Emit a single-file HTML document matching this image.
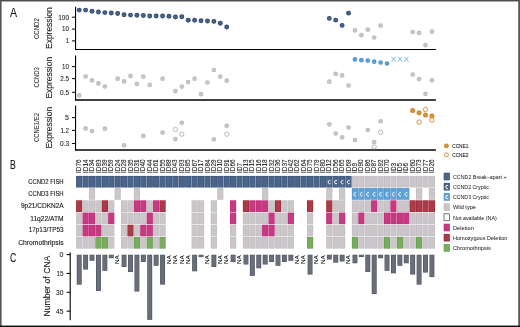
<!DOCTYPE html>
<html><head><meta charset="utf-8"><title>Figure</title>
<style>
html,body{margin:0;padding:0;background:#fff;}
body{width:520px;height:327px;overflow:hidden;font-family:"Liberation Sans",sans-serif;}
svg{display:block;will-change:transform;}
</style></head>
<body>
<svg width="520" height="327" viewBox="0 0 520 327">
<rect x="0" y="0" width="520" height="327" fill="#fff"/>
<rect x="0" y="0" width="520" height="1.5" fill="#4f4f4f"/>
<rect x="0" y="0" width="1.6" height="327" fill="#555"/>
<rect x="518.2" y="0" width="1.8" height="327" fill="#595959"/>
<rect x="0" y="325.6" width="520" height="1.4" fill="#0c0c0c"/>
<text x="10" y="17.4" font-size="12" font-family="Liberation Sans, sans-serif" fill="#1a1a1a" text-anchor="start" stroke="#1a1a1a" stroke-width="0.1" textLength="7.1" lengthAdjust="spacingAndGlyphs" >A</text>
<text x="10.1" y="168.9" font-size="12" font-family="Liberation Sans, sans-serif" fill="#1a1a1a" text-anchor="start" stroke="#1a1a1a" stroke-width="0.1" textLength="5.8" lengthAdjust="spacingAndGlyphs" >B</text>
<text x="10" y="262.3" font-size="12" font-family="Liberation Sans, sans-serif" fill="#1a1a1a" text-anchor="start" stroke="#1a1a1a" stroke-width="0.1" textLength="6.3" lengthAdjust="spacingAndGlyphs" >C</text>
<line x1="75.55" y1="6.7" x2="75.55" y2="50.0" stroke="#000" stroke-width="1.1"/>
<line x1="75.0" y1="49.5" x2="435.9" y2="49.5" stroke="#000" stroke-width="1.2"/>
<line x1="72.1" y1="17.2" x2="75.5" y2="17.2" stroke="#000" stroke-width="1.05"/>
<text x="69.0" y="19.55" font-size="7.0" font-family="Liberation Sans, sans-serif" fill="#1a1a1a" text-anchor="end" stroke="#1a1a1a" stroke-width="0.08" textLength="10.7" lengthAdjust="spacingAndGlyphs" >100</text>
<line x1="72.1" y1="29.1" x2="75.5" y2="29.1" stroke="#000" stroke-width="1.05"/>
<text x="69.0" y="31.45" font-size="7.0" font-family="Liberation Sans, sans-serif" fill="#1a1a1a" text-anchor="end" stroke="#1a1a1a" stroke-width="0.08" textLength="7.0" lengthAdjust="spacingAndGlyphs" >10</text>
<line x1="72.1" y1="40.9" x2="75.5" y2="40.9" stroke="#000" stroke-width="1.05"/>
<text x="69.0" y="43.25" font-size="7.0" font-family="Liberation Sans, sans-serif" fill="#1a1a1a" text-anchor="end" stroke="#1a1a1a" stroke-width="0.08" textLength="3.3" lengthAdjust="spacingAndGlyphs" >1</text>
<text x="51.7" y="48.900000000000006" font-size="8.7" font-family="Liberation Sans, sans-serif" fill="#1a1a1a" text-anchor="start" stroke="#1a1a1a" stroke-width="0.12" textLength="41.6" lengthAdjust="spacingAndGlyphs" transform="rotate(-90 51.7 48.900000000000006)" >Expression</text>
<text x="39.2" y="39.0" font-size="6.5" font-family="Liberation Sans, sans-serif" fill="#1a1a1a" text-anchor="start" stroke="#1a1a1a" stroke-width="0.03" textLength="20.8" lengthAdjust="spacingAndGlyphs" transform="rotate(-90 39.2 39.0)" >CCND2</text>
<line x1="75.55" y1="55.4" x2="75.55" y2="100.5" stroke="#000" stroke-width="1.1"/>
<line x1="75.0" y1="100.0" x2="435.9" y2="100.0" stroke="#000" stroke-width="1.4"/>
<line x1="72.1" y1="66.6" x2="75.5" y2="66.6" stroke="#000" stroke-width="1.05"/>
<text x="69.0" y="68.95" font-size="7.0" font-family="Liberation Sans, sans-serif" fill="#1a1a1a" text-anchor="end" stroke="#1a1a1a" stroke-width="0.08" textLength="7.0" lengthAdjust="spacingAndGlyphs" >10</text>
<line x1="72.1" y1="78.6" x2="75.5" y2="78.6" stroke="#000" stroke-width="1.05"/>
<text x="69.0" y="80.95" font-size="7.0" font-family="Liberation Sans, sans-serif" fill="#1a1a1a" text-anchor="end" stroke="#1a1a1a" stroke-width="0.08" textLength="8.8" lengthAdjust="spacingAndGlyphs" >2.5</text>
<line x1="72.1" y1="92.3" x2="75.5" y2="92.3" stroke="#000" stroke-width="1.05"/>
<text x="69.0" y="94.65" font-size="7.0" font-family="Liberation Sans, sans-serif" fill="#1a1a1a" text-anchor="end" stroke="#1a1a1a" stroke-width="0.08" textLength="9.0" lengthAdjust="spacingAndGlyphs" >0.5</text>
<text x="51.7" y="98.5" font-size="8.7" font-family="Liberation Sans, sans-serif" fill="#1a1a1a" text-anchor="start" stroke="#1a1a1a" stroke-width="0.12" textLength="41.6" lengthAdjust="spacingAndGlyphs" transform="rotate(-90 51.7 98.5)" >Expression</text>
<text x="39.2" y="87.60000000000001" font-size="6.5" font-family="Liberation Sans, sans-serif" fill="#1a1a1a" text-anchor="start" stroke="#1a1a1a" stroke-width="0.03" textLength="20.4" lengthAdjust="spacingAndGlyphs" transform="rotate(-90 39.2 87.60000000000001)" >CCND3</text>
<line x1="75.55" y1="105.4" x2="75.55" y2="150.5" stroke="#000" stroke-width="1.1"/>
<line x1="75.0" y1="150.0" x2="435.9" y2="150.0" stroke="#000" stroke-width="1.4"/>
<line x1="72.1" y1="117.6" x2="75.5" y2="117.6" stroke="#000" stroke-width="1.05"/>
<text x="69.0" y="119.95" font-size="7.0" font-family="Liberation Sans, sans-serif" fill="#1a1a1a" text-anchor="end" stroke="#1a1a1a" stroke-width="0.08" textLength="3.9" lengthAdjust="spacingAndGlyphs" >5</text>
<line x1="72.1" y1="130.4" x2="75.5" y2="130.4" stroke="#000" stroke-width="1.05"/>
<text x="69.0" y="132.75" font-size="7.0" font-family="Liberation Sans, sans-serif" fill="#1a1a1a" text-anchor="end" stroke="#1a1a1a" stroke-width="0.08" textLength="8.6" lengthAdjust="spacingAndGlyphs" >1.2</text>
<line x1="72.1" y1="143.5" x2="75.5" y2="143.5" stroke="#000" stroke-width="1.05"/>
<text x="69.0" y="145.85" font-size="7.0" font-family="Liberation Sans, sans-serif" fill="#1a1a1a" text-anchor="end" stroke="#1a1a1a" stroke-width="0.08" textLength="9.0" lengthAdjust="spacingAndGlyphs" >0.3</text>
<text x="51.7" y="148.5" font-size="8.7" font-family="Liberation Sans, sans-serif" fill="#1a1a1a" text-anchor="start" stroke="#1a1a1a" stroke-width="0.12" textLength="41.6" lengthAdjust="spacingAndGlyphs" transform="rotate(-90 51.7 148.5)" >Expression</text>
<text x="39.2" y="142.0" font-size="6.5" font-family="Liberation Sans, sans-serif" fill="#1a1a1a" text-anchor="start" stroke="#1a1a1a" stroke-width="0.03" textLength="29" lengthAdjust="spacingAndGlyphs" transform="rotate(-90 39.2 142.0)" >CCNE1/E2</text>
<circle cx="79.20" cy="10.10" r="2.45" fill="#2f4a74"/>
<circle cx="79.20" cy="10.10" r="1.60" fill="#4a6389"/>
<circle cx="85.61" cy="10.10" r="2.45" fill="#2f4a74"/>
<circle cx="85.61" cy="10.10" r="1.60" fill="#4a6389"/>
<circle cx="92.03" cy="11.20" r="2.45" fill="#2f4a74"/>
<circle cx="92.03" cy="11.20" r="1.60" fill="#4a6389"/>
<circle cx="98.44" cy="12.00" r="2.45" fill="#2f4a74"/>
<circle cx="98.44" cy="12.00" r="1.60" fill="#4a6389"/>
<circle cx="104.85" cy="12.60" r="2.45" fill="#2f4a74"/>
<circle cx="104.85" cy="12.60" r="1.60" fill="#4a6389"/>
<circle cx="111.27" cy="13.00" r="2.45" fill="#2f4a74"/>
<circle cx="111.27" cy="13.00" r="1.60" fill="#4a6389"/>
<circle cx="117.68" cy="13.50" r="2.45" fill="#2f4a74"/>
<circle cx="117.68" cy="13.50" r="1.60" fill="#4a6389"/>
<circle cx="124.09" cy="14.70" r="2.45" fill="#2f4a74"/>
<circle cx="124.09" cy="14.70" r="1.60" fill="#4a6389"/>
<circle cx="130.50" cy="15.10" r="2.45" fill="#2f4a74"/>
<circle cx="130.50" cy="15.10" r="1.60" fill="#4a6389"/>
<circle cx="136.92" cy="15.30" r="2.45" fill="#2f4a74"/>
<circle cx="136.92" cy="15.30" r="1.60" fill="#4a6389"/>
<circle cx="143.33" cy="15.50" r="2.45" fill="#2f4a74"/>
<circle cx="143.33" cy="15.50" r="1.60" fill="#4a6389"/>
<circle cx="149.74" cy="16.00" r="2.45" fill="#2f4a74"/>
<circle cx="149.74" cy="16.00" r="1.60" fill="#4a6389"/>
<circle cx="156.16" cy="16.00" r="2.45" fill="#2f4a74"/>
<circle cx="156.16" cy="16.00" r="1.60" fill="#4a6389"/>
<circle cx="162.57" cy="16.00" r="2.45" fill="#2f4a74"/>
<circle cx="162.57" cy="16.00" r="1.60" fill="#4a6389"/>
<circle cx="168.98" cy="16.20" r="2.45" fill="#2f4a74"/>
<circle cx="168.98" cy="16.20" r="1.60" fill="#4a6389"/>
<circle cx="175.40" cy="17.00" r="2.45" fill="#2f4a74"/>
<circle cx="175.40" cy="17.00" r="1.60" fill="#4a6389"/>
<circle cx="181.81" cy="16.80" r="2.45" fill="#2f4a74"/>
<circle cx="181.81" cy="16.80" r="1.60" fill="#4a6389"/>
<circle cx="188.22" cy="20.30" r="2.45" fill="#2f4a74"/>
<circle cx="188.22" cy="20.30" r="1.60" fill="#4a6389"/>
<circle cx="194.63" cy="20.30" r="2.45" fill="#2f4a74"/>
<circle cx="194.63" cy="20.30" r="1.60" fill="#4a6389"/>
<circle cx="201.05" cy="20.80" r="2.45" fill="#2f4a74"/>
<circle cx="201.05" cy="20.80" r="1.60" fill="#4a6389"/>
<circle cx="207.46" cy="21.00" r="2.45" fill="#2f4a74"/>
<circle cx="207.46" cy="21.00" r="1.60" fill="#4a6389"/>
<circle cx="213.87" cy="21.40" r="2.45" fill="#2f4a74"/>
<circle cx="213.87" cy="21.40" r="1.60" fill="#4a6389"/>
<circle cx="220.29" cy="23.30" r="2.45" fill="#2f4a74"/>
<circle cx="220.29" cy="23.30" r="1.60" fill="#4a6389"/>
<circle cx="226.70" cy="27.00" r="2.45" fill="#2f4a74"/>
<circle cx="226.70" cy="27.00" r="1.60" fill="#4a6389"/>
<circle cx="329.31" cy="18.40" r="2.4" fill="#2f4a74"/>
<circle cx="329.31" cy="18.40" r="1.55" fill="#4a6389"/>
<circle cx="335.72" cy="20.20" r="2.4" fill="#2f4a74"/>
<circle cx="335.72" cy="20.20" r="1.55" fill="#4a6389"/>
<circle cx="342.13" cy="25.40" r="2.4" fill="#2f4a74"/>
<circle cx="342.13" cy="25.40" r="1.55" fill="#4a6389"/>
<circle cx="348.55" cy="13.20" r="2.4" fill="#2f4a74"/>
<circle cx="348.55" cy="13.20" r="1.55" fill="#4a6389"/>
<circle cx="354.96" cy="30.30" r="2.35" fill="#beb8bc"/>
<circle cx="354.96" cy="30.30" r="1.50" fill="#cbc6c9"/>
<circle cx="361.37" cy="35.20" r="2.35" fill="#beb8bc"/>
<circle cx="361.37" cy="35.20" r="1.50" fill="#cbc6c9"/>
<circle cx="367.79" cy="29.70" r="2.35" fill="#beb8bc"/>
<circle cx="367.79" cy="29.70" r="1.50" fill="#cbc6c9"/>
<circle cx="374.20" cy="37.50" r="2.35" fill="#beb8bc"/>
<circle cx="374.20" cy="37.50" r="1.50" fill="#cbc6c9"/>
<circle cx="380.61" cy="25.60" r="2.35" fill="#beb8bc"/>
<circle cx="380.61" cy="25.60" r="1.50" fill="#cbc6c9"/>
<circle cx="412.68" cy="32.00" r="2.35" fill="#beb8bc"/>
<circle cx="412.68" cy="32.00" r="1.50" fill="#cbc6c9"/>
<circle cx="419.09" cy="32.90" r="2.35" fill="#beb8bc"/>
<circle cx="419.09" cy="32.90" r="1.50" fill="#cbc6c9"/>
<circle cx="425.50" cy="45.10" r="2.35" fill="#beb8bc"/>
<circle cx="425.50" cy="45.10" r="1.50" fill="#cbc6c9"/>
<circle cx="431.92" cy="31.60" r="2.35" fill="#beb8bc"/>
<circle cx="431.92" cy="31.60" r="1.50" fill="#cbc6c9"/>
<circle cx="79.20" cy="95.40" r="2.35" fill="#beb8bc"/>
<circle cx="79.20" cy="95.40" r="1.50" fill="#cbc6c9"/>
<circle cx="85.61" cy="76.50" r="2.35" fill="#beb8bc"/>
<circle cx="85.61" cy="76.50" r="1.50" fill="#cbc6c9"/>
<circle cx="92.03" cy="80.40" r="2.35" fill="#beb8bc"/>
<circle cx="92.03" cy="80.40" r="1.50" fill="#cbc6c9"/>
<circle cx="98.44" cy="83.40" r="2.35" fill="#beb8bc"/>
<circle cx="98.44" cy="83.40" r="1.50" fill="#cbc6c9"/>
<circle cx="104.85" cy="86.50" r="2.35" fill="#beb8bc"/>
<circle cx="104.85" cy="86.50" r="1.50" fill="#cbc6c9"/>
<circle cx="117.68" cy="78.70" r="2.35" fill="#beb8bc"/>
<circle cx="117.68" cy="78.70" r="1.50" fill="#cbc6c9"/>
<circle cx="124.09" cy="81.40" r="2.35" fill="#beb8bc"/>
<circle cx="124.09" cy="81.40" r="1.50" fill="#cbc6c9"/>
<circle cx="130.50" cy="75.90" r="2.35" fill="#beb8bc"/>
<circle cx="130.50" cy="75.90" r="1.50" fill="#cbc6c9"/>
<circle cx="136.92" cy="83.80" r="2.35" fill="#beb8bc"/>
<circle cx="136.92" cy="83.80" r="1.50" fill="#cbc6c9"/>
<circle cx="143.33" cy="76.60" r="2.35" fill="#beb8bc"/>
<circle cx="143.33" cy="76.60" r="1.50" fill="#cbc6c9"/>
<circle cx="149.74" cy="84.90" r="2.35" fill="#beb8bc"/>
<circle cx="149.74" cy="84.90" r="1.50" fill="#cbc6c9"/>
<circle cx="162.57" cy="78.70" r="2.35" fill="#beb8bc"/>
<circle cx="162.57" cy="78.70" r="1.50" fill="#cbc6c9"/>
<circle cx="175.40" cy="91.10" r="2.35" fill="#beb8bc"/>
<circle cx="175.40" cy="91.10" r="1.50" fill="#cbc6c9"/>
<circle cx="181.81" cy="86.60" r="2.35" fill="#beb8bc"/>
<circle cx="181.81" cy="86.60" r="1.50" fill="#cbc6c9"/>
<circle cx="188.22" cy="82.10" r="2.35" fill="#beb8bc"/>
<circle cx="188.22" cy="82.10" r="1.50" fill="#cbc6c9"/>
<circle cx="194.63" cy="78.70" r="2.35" fill="#beb8bc"/>
<circle cx="194.63" cy="78.70" r="1.50" fill="#cbc6c9"/>
<circle cx="201.05" cy="94.20" r="2.35" fill="#beb8bc"/>
<circle cx="201.05" cy="94.20" r="1.50" fill="#cbc6c9"/>
<circle cx="207.46" cy="82.50" r="2.35" fill="#beb8bc"/>
<circle cx="207.46" cy="82.50" r="1.50" fill="#cbc6c9"/>
<circle cx="213.87" cy="70.00" r="2.35" fill="#beb8bc"/>
<circle cx="213.87" cy="70.00" r="1.50" fill="#cbc6c9"/>
<circle cx="220.29" cy="76.60" r="2.35" fill="#beb8bc"/>
<circle cx="220.29" cy="76.60" r="1.50" fill="#cbc6c9"/>
<circle cx="226.70" cy="80.70" r="2.35" fill="#beb8bc"/>
<circle cx="226.70" cy="80.70" r="1.50" fill="#cbc6c9"/>
<circle cx="329.31" cy="81.70" r="2.35" fill="#beb8bc"/>
<circle cx="329.31" cy="81.70" r="1.50" fill="#cbc6c9"/>
<circle cx="335.72" cy="73.90" r="2.35" fill="#beb8bc"/>
<circle cx="335.72" cy="73.90" r="1.50" fill="#cbc6c9"/>
<circle cx="342.13" cy="75.40" r="2.35" fill="#beb8bc"/>
<circle cx="342.13" cy="75.40" r="1.50" fill="#cbc6c9"/>
<circle cx="348.55" cy="85.50" r="2.35" fill="#beb8bc"/>
<circle cx="348.55" cy="85.50" r="1.50" fill="#cbc6c9"/>
<circle cx="412.68" cy="74.50" r="2.35" fill="#beb8bc"/>
<circle cx="412.68" cy="74.50" r="1.50" fill="#cbc6c9"/>
<circle cx="419.09" cy="79.10" r="2.35" fill="#beb8bc"/>
<circle cx="419.09" cy="79.10" r="1.50" fill="#cbc6c9"/>
<circle cx="425.50" cy="93.80" r="2.35" fill="#beb8bc"/>
<circle cx="425.50" cy="93.80" r="1.50" fill="#cbc6c9"/>
<circle cx="431.92" cy="80.30" r="2.35" fill="#beb8bc"/>
<circle cx="431.92" cy="80.30" r="1.50" fill="#cbc6c9"/>
<circle cx="354.96" cy="59.40" r="2.35" fill="#5094d1"/>
<circle cx="354.96" cy="59.40" r="1.50" fill="#5f9fd6"/>
<circle cx="361.37" cy="60.20" r="2.35" fill="#5094d1"/>
<circle cx="361.37" cy="60.20" r="1.50" fill="#5f9fd6"/>
<circle cx="367.79" cy="60.60" r="2.35" fill="#5094d1"/>
<circle cx="367.79" cy="60.60" r="1.50" fill="#5f9fd6"/>
<circle cx="374.20" cy="61.70" r="2.35" fill="#5094d1"/>
<circle cx="374.20" cy="61.70" r="1.50" fill="#5f9fd6"/>
<circle cx="380.61" cy="62.50" r="2.35" fill="#5094d1"/>
<circle cx="380.61" cy="62.50" r="1.50" fill="#5f9fd6"/>
<circle cx="387.02" cy="63.50" r="2.35" fill="#5094d1"/>
<circle cx="387.02" cy="63.50" r="1.50" fill="#5f9fd6"/>
<path d="M391.54 56.90L395.74 61.50M391.54 61.50L395.74 56.90" stroke="#62a2d9" stroke-width="0.8" fill="none"/>
<path d="M397.95 56.90L402.15 61.50M397.95 61.50L402.15 56.90" stroke="#62a2d9" stroke-width="0.8" fill="none"/>
<path d="M404.36 56.90L408.56 61.50M404.36 61.50L408.56 56.90" stroke="#62a2d9" stroke-width="0.8" fill="none"/>
<circle cx="85.61" cy="128.40" r="2.35" fill="#beb8bc"/>
<circle cx="85.61" cy="128.40" r="1.50" fill="#cbc6c9"/>
<circle cx="92.03" cy="131.10" r="2.35" fill="#beb8bc"/>
<circle cx="92.03" cy="131.10" r="1.50" fill="#cbc6c9"/>
<circle cx="104.85" cy="128.70" r="2.35" fill="#beb8bc"/>
<circle cx="104.85" cy="128.70" r="1.50" fill="#cbc6c9"/>
<circle cx="124.09" cy="145.30" r="2.35" fill="#beb8bc"/>
<circle cx="124.09" cy="145.30" r="1.50" fill="#cbc6c9"/>
<circle cx="143.33" cy="135.90" r="2.35" fill="#beb8bc"/>
<circle cx="143.33" cy="135.90" r="1.50" fill="#cbc6c9"/>
<circle cx="162.57" cy="132.60" r="2.35" fill="#beb8bc"/>
<circle cx="162.57" cy="132.60" r="1.50" fill="#cbc6c9"/>
<circle cx="175.40" cy="139.10" r="2.35" fill="#beb8bc"/>
<circle cx="175.40" cy="139.10" r="1.50" fill="#cbc6c9"/>
<circle cx="181.81" cy="122.80" r="2.35" fill="#beb8bc"/>
<circle cx="181.81" cy="122.80" r="1.50" fill="#cbc6c9"/>
<circle cx="213.87" cy="139.30" r="2.35" fill="#beb8bc"/>
<circle cx="213.87" cy="139.30" r="1.50" fill="#cbc6c9"/>
<circle cx="226.70" cy="125.80" r="2.35" fill="#beb8bc"/>
<circle cx="226.70" cy="125.80" r="1.50" fill="#cbc6c9"/>
<circle cx="329.31" cy="124.30" r="2.35" fill="#beb8bc"/>
<circle cx="329.31" cy="124.30" r="1.50" fill="#cbc6c9"/>
<circle cx="335.72" cy="133.50" r="2.35" fill="#beb8bc"/>
<circle cx="335.72" cy="133.50" r="1.50" fill="#cbc6c9"/>
<circle cx="342.13" cy="137.30" r="2.35" fill="#beb8bc"/>
<circle cx="342.13" cy="137.30" r="1.50" fill="#cbc6c9"/>
<circle cx="348.55" cy="127.50" r="2.35" fill="#beb8bc"/>
<circle cx="348.55" cy="127.50" r="1.50" fill="#cbc6c9"/>
<circle cx="354.96" cy="140.00" r="2.35" fill="#beb8bc"/>
<circle cx="354.96" cy="140.00" r="1.50" fill="#cbc6c9"/>
<circle cx="367.79" cy="130.00" r="2.35" fill="#beb8bc"/>
<circle cx="367.79" cy="130.00" r="1.50" fill="#cbc6c9"/>
<circle cx="374.20" cy="142.00" r="2.35" fill="#beb8bc"/>
<circle cx="374.20" cy="142.00" r="1.50" fill="#cbc6c9"/>
<circle cx="380.61" cy="121.30" r="2.35" fill="#beb8bc"/>
<circle cx="380.61" cy="121.30" r="1.50" fill="#cbc6c9"/>
<circle cx="175.40" cy="129.40" r="2.15" fill="#fff" stroke="#bdb8bb" stroke-width="1.0"/>
<circle cx="181.81" cy="134.20" r="2.15" fill="#fff" stroke="#bdb8bb" stroke-width="1.0"/>
<circle cx="226.70" cy="134.20" r="2.15" fill="#fff" stroke="#bdb8bb" stroke-width="1.0"/>
<circle cx="374.20" cy="146.80" r="2.15" fill="#fff" stroke="#bdb8bb" stroke-width="1.0"/>
<circle cx="380.61" cy="132.30" r="2.15" fill="#fff" stroke="#bdb8bb" stroke-width="1.0"/>
<circle cx="412.68" cy="110.50" r="2.5" fill="#cf8521"/>
<circle cx="412.68" cy="110.50" r="1.65" fill="#d7953f"/>
<circle cx="419.09" cy="112.70" r="2.5" fill="#cf8521"/>
<circle cx="419.09" cy="112.70" r="1.65" fill="#d7953f"/>
<circle cx="425.50" cy="115.00" r="2.5" fill="#cf8521"/>
<circle cx="425.50" cy="115.00" r="1.65" fill="#d7953f"/>
<circle cx="431.92" cy="116.10" r="2.5" fill="#cf8521"/>
<circle cx="431.92" cy="116.10" r="1.65" fill="#d7953f"/>
<circle cx="425.50" cy="109.50" r="2.15" fill="#fff" stroke="#d7953f" stroke-width="1.0"/>
<circle cx="419.09" cy="122.00" r="2.15" fill="#fff" stroke="#d7953f" stroke-width="1.0"/>
<circle cx="431.92" cy="120.00" r="2.15" fill="#fff" stroke="#d7953f" stroke-width="1.0"/>
<circle cx="446.40" cy="145.90" r="2.45" fill="#cf8521"/>
<circle cx="446.40" cy="145.90" r="1.60" fill="#d7953f"/>
<circle cx="446.40" cy="154.90" r="2.0" fill="#fff" stroke="#d7953f" stroke-width="1.0"/>
<text x="452.3" y="148.0" font-size="5.8" font-family="Liberation Sans, sans-serif" fill="#1a1a1a" text-anchor="start" stroke="#1a1a1a" stroke-width="0.1" textLength="16" lengthAdjust="spacingAndGlyphs" >CCNE1</text>
<text x="452.3" y="157.0" font-size="5.8" font-family="Liberation Sans, sans-serif" fill="#1a1a1a" text-anchor="start" stroke="#1a1a1a" stroke-width="0.1" textLength="16" lengthAdjust="spacingAndGlyphs" >CCNE2</text>
<text x="81.3" y="172.9" font-size="7.3" font-family="Liberation Sans, sans-serif" fill="#1a1a1a" text-anchor="start" stroke="#1a1a1a" stroke-width="0.1" textLength="13.4" lengthAdjust="spacingAndGlyphs" transform="rotate(-90 81.3 172.9)" >ID76</text>
<text x="87.71" y="172.9" font-size="7.3" font-family="Liberation Sans, sans-serif" fill="#1a1a1a" text-anchor="start" stroke="#1a1a1a" stroke-width="0.1" textLength="13.4" lengthAdjust="spacingAndGlyphs" transform="rotate(-90 87.71 172.9)" >ID14</text>
<text x="94.13" y="172.9" font-size="7.3" font-family="Liberation Sans, sans-serif" fill="#1a1a1a" text-anchor="start" stroke="#1a1a1a" stroke-width="0.1" textLength="13.4" lengthAdjust="spacingAndGlyphs" transform="rotate(-90 94.13 172.9)" >ID34</text>
<text x="100.54" y="172.9" font-size="7.3" font-family="Liberation Sans, sans-serif" fill="#1a1a1a" text-anchor="start" stroke="#1a1a1a" stroke-width="0.1" textLength="13.4" lengthAdjust="spacingAndGlyphs" transform="rotate(-90 100.54 172.9)" >ID83</text>
<text x="106.95" y="172.9" font-size="7.3" font-family="Liberation Sans, sans-serif" fill="#1a1a1a" text-anchor="start" stroke="#1a1a1a" stroke-width="0.1" textLength="13.4" lengthAdjust="spacingAndGlyphs" transform="rotate(-90 106.95 172.9)" >ID39</text>
<text x="113.36" y="172.9" font-size="7.3" font-family="Liberation Sans, sans-serif" fill="#1a1a1a" text-anchor="start" stroke="#1a1a1a" stroke-width="0.1" textLength="13.4" lengthAdjust="spacingAndGlyphs" transform="rotate(-90 113.36 172.9)" >ID59</text>
<text x="119.78" y="172.9" font-size="7.3" font-family="Liberation Sans, sans-serif" fill="#1a1a1a" text-anchor="start" stroke="#1a1a1a" stroke-width="0.1" textLength="13.4" lengthAdjust="spacingAndGlyphs" transform="rotate(-90 119.78 172.9)" >ID24</text>
<text x="126.19" y="172.9" font-size="7.3" font-family="Liberation Sans, sans-serif" fill="#1a1a1a" text-anchor="start" stroke="#1a1a1a" stroke-width="0.1" textLength="13.4" lengthAdjust="spacingAndGlyphs" transform="rotate(-90 126.19 172.9)" >ID28</text>
<text x="132.6" y="172.9" font-size="7.3" font-family="Liberation Sans, sans-serif" fill="#1a1a1a" text-anchor="start" stroke="#1a1a1a" stroke-width="0.1" textLength="13.4" lengthAdjust="spacingAndGlyphs" transform="rotate(-90 132.6 172.9)" >ID35</text>
<text x="139.02" y="172.9" font-size="7.3" font-family="Liberation Sans, sans-serif" fill="#1a1a1a" text-anchor="start" stroke="#1a1a1a" stroke-width="0.1" textLength="13.4" lengthAdjust="spacingAndGlyphs" transform="rotate(-90 139.02 172.9)" >ID31</text>
<text x="145.43" y="172.9" font-size="7.3" font-family="Liberation Sans, sans-serif" fill="#1a1a1a" text-anchor="start" stroke="#1a1a1a" stroke-width="0.1" textLength="13.4" lengthAdjust="spacingAndGlyphs" transform="rotate(-90 145.43 172.9)" >ID40</text>
<text x="151.84" y="172.9" font-size="7.3" font-family="Liberation Sans, sans-serif" fill="#1a1a1a" text-anchor="start" stroke="#1a1a1a" stroke-width="0.1" textLength="13.4" lengthAdjust="spacingAndGlyphs" transform="rotate(-90 151.84 172.9)" >ID44</text>
<text x="158.26" y="172.9" font-size="7.3" font-family="Liberation Sans, sans-serif" fill="#1a1a1a" text-anchor="start" stroke="#1a1a1a" stroke-width="0.1" textLength="13.4" lengthAdjust="spacingAndGlyphs" transform="rotate(-90 158.26 172.9)" >ID61</text>
<text x="164.67" y="172.9" font-size="7.3" font-family="Liberation Sans, sans-serif" fill="#1a1a1a" text-anchor="start" stroke="#1a1a1a" stroke-width="0.1" textLength="13.4" lengthAdjust="spacingAndGlyphs" transform="rotate(-90 164.67 172.9)" >ID55</text>
<text x="171.08" y="172.9" font-size="7.3" font-family="Liberation Sans, sans-serif" fill="#1a1a1a" text-anchor="start" stroke="#1a1a1a" stroke-width="0.1" textLength="13.4" lengthAdjust="spacingAndGlyphs" transform="rotate(-90 171.08 172.9)" >ID88</text>
<text x="177.5" y="172.9" font-size="7.3" font-family="Liberation Sans, sans-serif" fill="#1a1a1a" text-anchor="start" stroke="#1a1a1a" stroke-width="0.1" textLength="13.4" lengthAdjust="spacingAndGlyphs" transform="rotate(-90 177.5 172.9)" >ID43</text>
<text x="183.91" y="172.9" font-size="7.3" font-family="Liberation Sans, sans-serif" fill="#1a1a1a" text-anchor="start" stroke="#1a1a1a" stroke-width="0.1" textLength="13.4" lengthAdjust="spacingAndGlyphs" transform="rotate(-90 183.91 172.9)" >ID93</text>
<text x="190.32" y="172.9" font-size="7.3" font-family="Liberation Sans, sans-serif" fill="#1a1a1a" text-anchor="start" stroke="#1a1a1a" stroke-width="0.1" textLength="13.4" lengthAdjust="spacingAndGlyphs" transform="rotate(-90 190.32 172.9)" >ID85</text>
<text x="196.73" y="172.9" font-size="7.3" font-family="Liberation Sans, sans-serif" fill="#1a1a1a" text-anchor="start" stroke="#1a1a1a" stroke-width="0.1" textLength="13.4" lengthAdjust="spacingAndGlyphs" transform="rotate(-90 196.73 172.9)" >ID67</text>
<text x="203.15" y="172.9" font-size="7.3" font-family="Liberation Sans, sans-serif" fill="#1a1a1a" text-anchor="start" stroke="#1a1a1a" stroke-width="0.1" textLength="13.4" lengthAdjust="spacingAndGlyphs" transform="rotate(-90 203.15 172.9)" >ID17</text>
<text x="209.56" y="172.9" font-size="7.3" font-family="Liberation Sans, sans-serif" fill="#1a1a1a" text-anchor="start" stroke="#1a1a1a" stroke-width="0.1" textLength="13.4" lengthAdjust="spacingAndGlyphs" transform="rotate(-90 209.56 172.9)" >ID84</text>
<text x="215.97" y="172.9" font-size="7.3" font-family="Liberation Sans, sans-serif" fill="#1a1a1a" text-anchor="start" stroke="#1a1a1a" stroke-width="0.1" textLength="13.4" lengthAdjust="spacingAndGlyphs" transform="rotate(-90 215.97 172.9)" >ID29</text>
<text x="222.39" y="172.9" font-size="7.3" font-family="Liberation Sans, sans-serif" fill="#1a1a1a" text-anchor="start" stroke="#1a1a1a" stroke-width="0.1" textLength="13.4" lengthAdjust="spacingAndGlyphs" transform="rotate(-90 222.39 172.9)" >ID10</text>
<text x="228.8" y="172.9" font-size="7.3" font-family="Liberation Sans, sans-serif" fill="#1a1a1a" text-anchor="start" stroke="#1a1a1a" stroke-width="0.1" textLength="13.4" lengthAdjust="spacingAndGlyphs" transform="rotate(-90 228.8 172.9)" >ID91</text>
<text x="235.21" y="172.9" font-size="7.3" font-family="Liberation Sans, sans-serif" fill="#1a1a1a" text-anchor="start" stroke="#1a1a1a" stroke-width="0.1" textLength="13.4" lengthAdjust="spacingAndGlyphs" transform="rotate(-90 235.21 172.9)" >ID66</text>
<text x="241.63" y="172.9" font-size="7.3" font-family="Liberation Sans, sans-serif" fill="#1a1a1a" text-anchor="start" stroke="#1a1a1a" stroke-width="0.1" textLength="10.0" lengthAdjust="spacingAndGlyphs" transform="rotate(-90 241.63 172.9)" >ID7</text>
<text x="248.04" y="172.9" font-size="7.3" font-family="Liberation Sans, sans-serif" fill="#1a1a1a" text-anchor="start" stroke="#1a1a1a" stroke-width="0.1" textLength="13.4" lengthAdjust="spacingAndGlyphs" transform="rotate(-90 248.04 172.9)" >ID13</text>
<text x="254.45" y="172.9" font-size="7.3" font-family="Liberation Sans, sans-serif" fill="#1a1a1a" text-anchor="start" stroke="#1a1a1a" stroke-width="0.1" textLength="13.4" lengthAdjust="spacingAndGlyphs" transform="rotate(-90 254.45 172.9)" >ID15</text>
<text x="260.86" y="172.9" font-size="7.3" font-family="Liberation Sans, sans-serif" fill="#1a1a1a" text-anchor="start" stroke="#1a1a1a" stroke-width="0.1" textLength="13.4" lengthAdjust="spacingAndGlyphs" transform="rotate(-90 260.86 172.9)" >ID16</text>
<text x="267.28" y="172.9" font-size="7.3" font-family="Liberation Sans, sans-serif" fill="#1a1a1a" text-anchor="start" stroke="#1a1a1a" stroke-width="0.1" textLength="13.4" lengthAdjust="spacingAndGlyphs" transform="rotate(-90 267.28 172.9)" >ID18</text>
<text x="273.69" y="172.9" font-size="7.3" font-family="Liberation Sans, sans-serif" fill="#1a1a1a" text-anchor="start" stroke="#1a1a1a" stroke-width="0.1" textLength="13.4" lengthAdjust="spacingAndGlyphs" transform="rotate(-90 273.69 172.9)" >ID32</text>
<text x="280.1" y="172.9" font-size="7.3" font-family="Liberation Sans, sans-serif" fill="#1a1a1a" text-anchor="start" stroke="#1a1a1a" stroke-width="0.1" textLength="13.4" lengthAdjust="spacingAndGlyphs" transform="rotate(-90 280.1 172.9)" >ID36</text>
<text x="286.52" y="172.9" font-size="7.3" font-family="Liberation Sans, sans-serif" fill="#1a1a1a" text-anchor="start" stroke="#1a1a1a" stroke-width="0.1" textLength="13.4" lengthAdjust="spacingAndGlyphs" transform="rotate(-90 286.52 172.9)" >ID37</text>
<text x="292.93" y="172.9" font-size="7.3" font-family="Liberation Sans, sans-serif" fill="#1a1a1a" text-anchor="start" stroke="#1a1a1a" stroke-width="0.1" textLength="13.4" lengthAdjust="spacingAndGlyphs" transform="rotate(-90 292.93 172.9)" >ID42</text>
<text x="299.34" y="172.9" font-size="7.3" font-family="Liberation Sans, sans-serif" fill="#1a1a1a" text-anchor="start" stroke="#1a1a1a" stroke-width="0.1" textLength="13.4" lengthAdjust="spacingAndGlyphs" transform="rotate(-90 299.34 172.9)" >ID62</text>
<text x="305.76" y="172.9" font-size="7.3" font-family="Liberation Sans, sans-serif" fill="#1a1a1a" text-anchor="start" stroke="#1a1a1a" stroke-width="0.1" textLength="13.4" lengthAdjust="spacingAndGlyphs" transform="rotate(-90 305.76 172.9)" >ID64</text>
<text x="312.17" y="172.9" font-size="7.3" font-family="Liberation Sans, sans-serif" fill="#1a1a1a" text-anchor="start" stroke="#1a1a1a" stroke-width="0.1" textLength="13.4" lengthAdjust="spacingAndGlyphs" transform="rotate(-90 312.17 172.9)" >ID75</text>
<text x="318.58" y="172.9" font-size="7.3" font-family="Liberation Sans, sans-serif" fill="#1a1a1a" text-anchor="start" stroke="#1a1a1a" stroke-width="0.1" textLength="13.4" lengthAdjust="spacingAndGlyphs" transform="rotate(-90 318.58 172.9)" >ID79</text>
<text x="324.99" y="172.9" font-size="7.3" font-family="Liberation Sans, sans-serif" fill="#1a1a1a" text-anchor="start" stroke="#1a1a1a" stroke-width="0.1" textLength="13.4" lengthAdjust="spacingAndGlyphs" transform="rotate(-90 324.99 172.9)" >ID80</text>
<text x="331.41" y="172.9" font-size="7.3" font-family="Liberation Sans, sans-serif" fill="#1a1a1a" text-anchor="start" stroke="#1a1a1a" stroke-width="0.1" textLength="13.4" lengthAdjust="spacingAndGlyphs" transform="rotate(-90 331.41 172.9)" >ID12</text>
<text x="337.82" y="172.9" font-size="7.3" font-family="Liberation Sans, sans-serif" fill="#1a1a1a" text-anchor="start" stroke="#1a1a1a" stroke-width="0.1" textLength="13.4" lengthAdjust="spacingAndGlyphs" transform="rotate(-90 337.82 172.9)" >ID56</text>
<text x="344.23" y="172.9" font-size="7.3" font-family="Liberation Sans, sans-serif" fill="#1a1a1a" text-anchor="start" stroke="#1a1a1a" stroke-width="0.1" textLength="13.4" lengthAdjust="spacingAndGlyphs" transform="rotate(-90 344.23 172.9)" >ID65</text>
<text x="350.65" y="172.9" font-size="7.3" font-family="Liberation Sans, sans-serif" fill="#1a1a1a" text-anchor="start" stroke="#1a1a1a" stroke-width="0.1" textLength="13.4" lengthAdjust="spacingAndGlyphs" transform="rotate(-90 350.65 172.9)" >ID68</text>
<text x="357.06" y="172.9" font-size="7.3" font-family="Liberation Sans, sans-serif" fill="#1a1a1a" text-anchor="start" stroke="#1a1a1a" stroke-width="0.1" textLength="10.0" lengthAdjust="spacingAndGlyphs" transform="rotate(-90 357.06 172.9)" >ID9</text>
<text x="363.47" y="172.9" font-size="7.3" font-family="Liberation Sans, sans-serif" fill="#1a1a1a" text-anchor="start" stroke="#1a1a1a" stroke-width="0.1" textLength="13.4" lengthAdjust="spacingAndGlyphs" transform="rotate(-90 363.47 172.9)" >ID90</text>
<text x="369.89" y="172.9" font-size="7.3" font-family="Liberation Sans, sans-serif" fill="#1a1a1a" text-anchor="start" stroke="#1a1a1a" stroke-width="0.1" textLength="13.4" lengthAdjust="spacingAndGlyphs" transform="rotate(-90 369.89 172.9)" >ID86</text>
<text x="376.3" y="172.9" font-size="7.3" font-family="Liberation Sans, sans-serif" fill="#1a1a1a" text-anchor="start" stroke="#1a1a1a" stroke-width="0.1" textLength="13.4" lengthAdjust="spacingAndGlyphs" transform="rotate(-90 376.3 172.9)" >ID87</text>
<text x="382.71" y="172.9" font-size="7.3" font-family="Liberation Sans, sans-serif" fill="#1a1a1a" text-anchor="start" stroke="#1a1a1a" stroke-width="0.1" textLength="13.4" lengthAdjust="spacingAndGlyphs" transform="rotate(-90 382.71 172.9)" >ID92</text>
<text x="389.12" y="172.9" font-size="7.3" font-family="Liberation Sans, sans-serif" fill="#1a1a1a" text-anchor="start" stroke="#1a1a1a" stroke-width="0.1" textLength="13.4" lengthAdjust="spacingAndGlyphs" transform="rotate(-90 389.12 172.9)" >ID70</text>
<text x="395.54" y="172.9" font-size="7.3" font-family="Liberation Sans, sans-serif" fill="#1a1a1a" text-anchor="start" stroke="#1a1a1a" stroke-width="0.1" textLength="10.0" lengthAdjust="spacingAndGlyphs" transform="rotate(-90 395.54 172.9)" >ID3</text>
<text x="401.95" y="172.9" font-size="7.3" font-family="Liberation Sans, sans-serif" fill="#1a1a1a" text-anchor="start" stroke="#1a1a1a" stroke-width="0.1" textLength="10.0" lengthAdjust="spacingAndGlyphs" transform="rotate(-90 401.95 172.9)" >ID5</text>
<text x="408.36" y="172.9" font-size="7.3" font-family="Liberation Sans, sans-serif" fill="#1a1a1a" text-anchor="start" stroke="#1a1a1a" stroke-width="0.1" textLength="10.0" lengthAdjust="spacingAndGlyphs" transform="rotate(-90 408.36 172.9)" >ID6</text>
<text x="414.78" y="172.9" font-size="7.3" font-family="Liberation Sans, sans-serif" fill="#1a1a1a" text-anchor="start" stroke="#1a1a1a" stroke-width="0.1" textLength="13.4" lengthAdjust="spacingAndGlyphs" transform="rotate(-90 414.78 172.9)" >ID60</text>
<text x="421.19" y="172.9" font-size="7.3" font-family="Liberation Sans, sans-serif" fill="#1a1a1a" text-anchor="start" stroke="#1a1a1a" stroke-width="0.1" textLength="13.4" lengthAdjust="spacingAndGlyphs" transform="rotate(-90 421.19 172.9)" >ID73</text>
<text x="427.6" y="172.9" font-size="7.3" font-family="Liberation Sans, sans-serif" fill="#1a1a1a" text-anchor="start" stroke="#1a1a1a" stroke-width="0.1" textLength="13.4" lengthAdjust="spacingAndGlyphs" transform="rotate(-90 427.6 172.9)" >ID77</text>
<text x="434.02" y="172.9" font-size="7.3" font-family="Liberation Sans, sans-serif" fill="#1a1a1a" text-anchor="start" stroke="#1a1a1a" stroke-width="0.1" textLength="13.4" lengthAdjust="spacingAndGlyphs" transform="rotate(-90 434.02 172.9)" >ID26</text>
<rect x="76.12" y="175.90" width="6.15" height="11.6" fill="#34507b"/>
<rect x="76.72" y="176.50" width="4.95" height="10.40" fill="#4c6488"/>
<rect x="82.54" y="175.90" width="6.15" height="11.6" fill="#34507b"/>
<rect x="83.14" y="176.50" width="4.95" height="10.40" fill="#4c6488"/>
<rect x="88.95" y="175.90" width="6.15" height="11.6" fill="#34507b"/>
<rect x="89.55" y="176.50" width="4.95" height="10.40" fill="#4c6488"/>
<rect x="95.36" y="175.90" width="6.15" height="11.6" fill="#34507b"/>
<rect x="95.96" y="176.50" width="4.95" height="10.40" fill="#4c6488"/>
<rect x="101.78" y="175.90" width="6.15" height="11.6" fill="#34507b"/>
<rect x="102.38" y="176.50" width="4.95" height="10.40" fill="#4c6488"/>
<rect x="108.19" y="175.90" width="6.15" height="11.6" fill="#34507b"/>
<rect x="108.79" y="176.50" width="4.95" height="10.40" fill="#4c6488"/>
<rect x="114.60" y="175.90" width="6.15" height="11.6" fill="#34507b"/>
<rect x="115.20" y="176.50" width="4.95" height="10.40" fill="#4c6488"/>
<rect x="121.02" y="175.90" width="6.15" height="11.6" fill="#34507b"/>
<rect x="121.62" y="176.50" width="4.95" height="10.40" fill="#4c6488"/>
<rect x="127.43" y="175.90" width="6.15" height="11.6" fill="#34507b"/>
<rect x="128.03" y="176.50" width="4.95" height="10.40" fill="#4c6488"/>
<rect x="133.84" y="175.90" width="6.15" height="11.6" fill="#34507b"/>
<rect x="134.44" y="176.50" width="4.95" height="10.40" fill="#4c6488"/>
<rect x="140.25" y="175.90" width="6.15" height="11.6" fill="#34507b"/>
<rect x="140.85" y="176.50" width="4.95" height="10.40" fill="#4c6488"/>
<rect x="146.67" y="175.90" width="6.15" height="11.6" fill="#34507b"/>
<rect x="147.27" y="176.50" width="4.95" height="10.40" fill="#4c6488"/>
<rect x="153.08" y="175.90" width="6.15" height="11.6" fill="#34507b"/>
<rect x="153.68" y="176.50" width="4.95" height="10.40" fill="#4c6488"/>
<rect x="159.49" y="175.90" width="6.15" height="11.6" fill="#34507b"/>
<rect x="160.09" y="176.50" width="4.95" height="10.40" fill="#4c6488"/>
<rect x="165.91" y="175.90" width="6.15" height="11.6" fill="#34507b"/>
<rect x="166.51" y="176.50" width="4.95" height="10.40" fill="#4c6488"/>
<rect x="172.32" y="175.90" width="6.15" height="11.6" fill="#34507b"/>
<rect x="172.92" y="176.50" width="4.95" height="10.40" fill="#4c6488"/>
<rect x="178.73" y="175.90" width="6.15" height="11.6" fill="#34507b"/>
<rect x="179.33" y="176.50" width="4.95" height="10.40" fill="#4c6488"/>
<rect x="185.15" y="175.90" width="6.15" height="11.6" fill="#34507b"/>
<rect x="185.75" y="176.50" width="4.95" height="10.40" fill="#4c6488"/>
<rect x="191.56" y="175.90" width="6.15" height="11.6" fill="#34507b"/>
<rect x="192.16" y="176.50" width="4.95" height="10.40" fill="#4c6488"/>
<rect x="197.97" y="175.90" width="6.15" height="11.6" fill="#34507b"/>
<rect x="198.57" y="176.50" width="4.95" height="10.40" fill="#4c6488"/>
<rect x="204.38" y="175.90" width="6.15" height="11.6" fill="#34507b"/>
<rect x="204.98" y="176.50" width="4.95" height="10.40" fill="#4c6488"/>
<rect x="210.80" y="175.90" width="6.15" height="11.6" fill="#34507b"/>
<rect x="211.40" y="176.50" width="4.95" height="10.40" fill="#4c6488"/>
<rect x="217.21" y="175.90" width="6.15" height="11.6" fill="#34507b"/>
<rect x="217.81" y="176.50" width="4.95" height="10.40" fill="#4c6488"/>
<rect x="223.62" y="175.90" width="6.15" height="11.6" fill="#34507b"/>
<rect x="224.22" y="176.50" width="4.95" height="10.40" fill="#4c6488"/>
<rect x="230.04" y="175.90" width="6.15" height="11.6" fill="#34507b"/>
<rect x="230.64" y="176.50" width="4.95" height="10.40" fill="#4c6488"/>
<rect x="236.45" y="175.90" width="6.15" height="11.6" fill="#34507b"/>
<rect x="237.05" y="176.50" width="4.95" height="10.40" fill="#4c6488"/>
<rect x="242.86" y="175.90" width="6.15" height="11.6" fill="#34507b"/>
<rect x="243.46" y="176.50" width="4.95" height="10.40" fill="#4c6488"/>
<rect x="249.28" y="175.90" width="6.15" height="11.6" fill="#34507b"/>
<rect x="249.88" y="176.50" width="4.95" height="10.40" fill="#4c6488"/>
<rect x="255.69" y="175.90" width="6.15" height="11.6" fill="#34507b"/>
<rect x="256.29" y="176.50" width="4.95" height="10.40" fill="#4c6488"/>
<rect x="262.10" y="175.90" width="6.15" height="11.6" fill="#34507b"/>
<rect x="262.70" y="176.50" width="4.95" height="10.40" fill="#4c6488"/>
<rect x="268.52" y="175.90" width="6.15" height="11.6" fill="#34507b"/>
<rect x="269.12" y="176.50" width="4.95" height="10.40" fill="#4c6488"/>
<rect x="274.93" y="175.90" width="6.15" height="11.6" fill="#34507b"/>
<rect x="275.53" y="176.50" width="4.95" height="10.40" fill="#4c6488"/>
<rect x="281.34" y="175.90" width="6.15" height="11.6" fill="#34507b"/>
<rect x="281.94" y="176.50" width="4.95" height="10.40" fill="#4c6488"/>
<rect x="287.75" y="175.90" width="6.15" height="11.6" fill="#34507b"/>
<rect x="288.35" y="176.50" width="4.95" height="10.40" fill="#4c6488"/>
<rect x="294.17" y="175.90" width="6.15" height="11.6" fill="#34507b"/>
<rect x="294.77" y="176.50" width="4.95" height="10.40" fill="#4c6488"/>
<rect x="300.58" y="175.90" width="6.15" height="11.6" fill="#34507b"/>
<rect x="301.18" y="176.50" width="4.95" height="10.40" fill="#4c6488"/>
<rect x="306.99" y="175.90" width="6.15" height="11.6" fill="#34507b"/>
<rect x="307.59" y="176.50" width="4.95" height="10.40" fill="#4c6488"/>
<rect x="313.41" y="175.90" width="6.15" height="11.6" fill="#34507b"/>
<rect x="314.01" y="176.50" width="4.95" height="10.40" fill="#4c6488"/>
<rect x="319.82" y="175.90" width="6.15" height="11.6" fill="#34507b"/>
<rect x="320.42" y="176.50" width="4.95" height="10.40" fill="#4c6488"/>
<rect x="326.23" y="175.90" width="6.15" height="11.6" fill="#34507b"/>
<rect x="326.83" y="176.50" width="4.95" height="10.40" fill="#4c6488"/>
<rect x="332.64" y="175.90" width="6.15" height="11.6" fill="#34507b"/>
<rect x="333.25" y="176.50" width="4.95" height="10.40" fill="#4c6488"/>
<rect x="339.06" y="175.90" width="6.15" height="11.6" fill="#34507b"/>
<rect x="339.66" y="176.50" width="4.95" height="10.40" fill="#4c6488"/>
<rect x="345.47" y="175.90" width="6.15" height="11.6" fill="#34507b"/>
<rect x="346.07" y="176.50" width="4.95" height="10.40" fill="#4c6488"/>
<rect x="351.88" y="175.90" width="6.15" height="11.6" fill="#c2bcc0"/>
<rect x="352.48" y="176.50" width="4.95" height="10.40" fill="#cbc6c9"/>
<rect x="358.30" y="175.90" width="6.15" height="11.6" fill="#c2bcc0"/>
<rect x="358.90" y="176.50" width="4.95" height="10.40" fill="#cbc6c9"/>
<rect x="364.71" y="175.90" width="6.15" height="11.6" fill="#c2bcc0"/>
<rect x="365.31" y="176.50" width="4.95" height="10.40" fill="#cbc6c9"/>
<rect x="371.12" y="175.90" width="6.15" height="11.6" fill="#c2bcc0"/>
<rect x="371.72" y="176.50" width="4.95" height="10.40" fill="#cbc6c9"/>
<rect x="377.54" y="175.90" width="6.15" height="11.6" fill="#c2bcc0"/>
<rect x="378.14" y="176.50" width="4.95" height="10.40" fill="#cbc6c9"/>
<rect x="383.95" y="175.90" width="6.15" height="11.6" fill="#c2bcc0"/>
<rect x="384.55" y="176.50" width="4.95" height="10.40" fill="#cbc6c9"/>
<rect x="390.36" y="175.90" width="6.15" height="11.6" fill="#c2bcc0"/>
<rect x="390.96" y="176.50" width="4.95" height="10.40" fill="#cbc6c9"/>
<rect x="396.78" y="175.90" width="6.15" height="11.6" fill="#c2bcc0"/>
<rect x="397.38" y="176.50" width="4.95" height="10.40" fill="#cbc6c9"/>
<rect x="403.19" y="175.90" width="6.15" height="11.6" fill="#c2bcc0"/>
<rect x="403.79" y="176.50" width="4.95" height="10.40" fill="#cbc6c9"/>
<rect x="409.60" y="175.90" width="6.15" height="11.6" fill="#c2bcc0"/>
<rect x="410.20" y="176.50" width="4.95" height="10.40" fill="#cbc6c9"/>
<rect x="416.01" y="175.90" width="6.15" height="11.6" fill="#c2bcc0"/>
<rect x="416.61" y="176.50" width="4.95" height="10.40" fill="#cbc6c9"/>
<rect x="422.43" y="175.90" width="6.15" height="11.6" fill="#c2bcc0"/>
<rect x="423.03" y="176.50" width="4.95" height="10.40" fill="#cbc6c9"/>
<rect x="428.84" y="175.90" width="6.15" height="11.6" fill="#c2bcc0"/>
<rect x="429.44" y="176.50" width="4.95" height="10.40" fill="#cbc6c9"/>
<path d="M330.56 180.80A1.4 1.75 0 1 0 330.56 183.40" fill="none" stroke="#fff" stroke-width="0.95"/>
<path d="M336.97 180.80A1.4 1.75 0 1 0 336.97 183.40" fill="none" stroke="#fff" stroke-width="0.95"/>
<path d="M343.38 180.80A1.4 1.75 0 1 0 343.38 183.40" fill="none" stroke="#fff" stroke-width="0.95"/>
<path d="M349.80 180.80A1.4 1.75 0 1 0 349.80 183.40" fill="none" stroke="#fff" stroke-width="0.95"/>
<rect x="88.95" y="188.12" width="6.15" height="11.6" fill="#c2bcc0"/>
<rect x="89.55" y="188.72" width="4.95" height="10.40" fill="#cbc6c9"/>
<rect x="114.60" y="188.12" width="6.15" height="11.6" fill="#c2bcc0"/>
<rect x="115.20" y="188.72" width="4.95" height="10.40" fill="#cbc6c9"/>
<rect x="133.84" y="188.12" width="6.15" height="11.6" fill="#c2bcc0"/>
<rect x="134.44" y="188.72" width="4.95" height="10.40" fill="#cbc6c9"/>
<rect x="217.21" y="188.12" width="6.15" height="11.6" fill="#c2bcc0"/>
<rect x="217.81" y="188.72" width="4.95" height="10.40" fill="#cbc6c9"/>
<rect x="262.10" y="188.12" width="6.15" height="11.6" fill="#c2bcc0"/>
<rect x="262.70" y="188.72" width="4.95" height="10.40" fill="#cbc6c9"/>
<rect x="326.23" y="188.12" width="6.15" height="11.6" fill="#c2bcc0"/>
<rect x="326.83" y="188.72" width="4.95" height="10.40" fill="#cbc6c9"/>
<rect x="339.06" y="188.12" width="6.15" height="11.6" fill="#c2bcc0"/>
<rect x="339.66" y="188.72" width="4.95" height="10.40" fill="#cbc6c9"/>
<rect x="416.01" y="188.12" width="6.15" height="11.6" fill="#c2bcc0"/>
<rect x="416.61" y="188.72" width="4.95" height="10.40" fill="#cbc6c9"/>
<rect x="428.84" y="188.12" width="6.15" height="11.6" fill="#c2bcc0"/>
<rect x="429.44" y="188.72" width="4.95" height="10.40" fill="#cbc6c9"/>
<rect x="351.88" y="188.12" width="6.15" height="11.6" fill="#4a92cf"/>
<rect x="352.48" y="188.72" width="4.95" height="10.40" fill="#60a1d7"/>
<path d="M356.21 193.02A1.4 1.75 0 1 0 356.21 195.62" fill="none" stroke="#fff" stroke-width="0.95"/>
<rect x="358.30" y="188.12" width="6.15" height="11.6" fill="#4a92cf"/>
<rect x="358.90" y="188.72" width="4.95" height="10.40" fill="#60a1d7"/>
<path d="M362.62 193.02A1.4 1.75 0 1 0 362.62 195.62" fill="none" stroke="#fff" stroke-width="0.95"/>
<rect x="364.71" y="188.12" width="6.15" height="11.6" fill="#4a92cf"/>
<rect x="365.31" y="188.72" width="4.95" height="10.40" fill="#60a1d7"/>
<path d="M369.04 193.02A1.4 1.75 0 1 0 369.04 195.62" fill="none" stroke="#fff" stroke-width="0.95"/>
<rect x="371.12" y="188.12" width="6.15" height="11.6" fill="#4a92cf"/>
<rect x="371.72" y="188.72" width="4.95" height="10.40" fill="#60a1d7"/>
<path d="M375.45 193.02A1.4 1.75 0 1 0 375.45 195.62" fill="none" stroke="#fff" stroke-width="0.95"/>
<rect x="377.54" y="188.12" width="6.15" height="11.6" fill="#4a92cf"/>
<rect x="378.14" y="188.72" width="4.95" height="10.40" fill="#60a1d7"/>
<path d="M381.86 193.02A1.4 1.75 0 1 0 381.86 195.62" fill="none" stroke="#fff" stroke-width="0.95"/>
<rect x="383.95" y="188.12" width="6.15" height="11.6" fill="#4a92cf"/>
<rect x="384.55" y="188.72" width="4.95" height="10.40" fill="#60a1d7"/>
<path d="M388.27 193.02A1.4 1.75 0 1 0 388.27 195.62" fill="none" stroke="#fff" stroke-width="0.95"/>
<rect x="390.36" y="188.12" width="6.15" height="11.6" fill="#4a92cf"/>
<rect x="390.96" y="188.72" width="4.95" height="10.40" fill="#60a1d7"/>
<path d="M394.69 193.02A1.4 1.75 0 1 0 394.69 195.62" fill="none" stroke="#fff" stroke-width="0.95"/>
<rect x="396.78" y="188.12" width="6.15" height="11.6" fill="#4a92cf"/>
<rect x="397.38" y="188.72" width="4.95" height="10.40" fill="#60a1d7"/>
<path d="M401.10 193.02A1.4 1.75 0 1 0 401.10 195.62" fill="none" stroke="#fff" stroke-width="0.95"/>
<rect x="403.19" y="188.12" width="6.15" height="11.6" fill="#4a92cf"/>
<rect x="403.79" y="188.72" width="4.95" height="10.40" fill="#60a1d7"/>
<path d="M407.51 193.02A1.4 1.75 0 1 0 407.51 195.62" fill="none" stroke="#fff" stroke-width="0.95"/>
<rect x="76.12" y="200.34" width="6.15" height="11.6" fill="#9d2130"/>
<rect x="76.72" y="200.94" width="4.95" height="10.40" fill="#aa3b48"/>
<rect x="82.54" y="200.34" width="6.15" height="11.6" fill="#c2bcc0"/>
<rect x="83.14" y="200.94" width="4.95" height="10.40" fill="#cbc6c9"/>
<rect x="88.95" y="200.34" width="6.15" height="11.6" fill="#c2bcc0"/>
<rect x="89.55" y="200.94" width="4.95" height="10.40" fill="#cbc6c9"/>
<rect x="95.36" y="200.34" width="6.15" height="11.6" fill="#c2bcc0"/>
<rect x="95.96" y="200.94" width="4.95" height="10.40" fill="#cbc6c9"/>
<rect x="101.78" y="200.34" width="6.15" height="11.6" fill="#9d2130"/>
<rect x="102.38" y="200.94" width="4.95" height="10.40" fill="#aa3b48"/>
<rect x="108.19" y="200.34" width="6.15" height="11.6" fill="#c2bcc0"/>
<rect x="108.79" y="200.94" width="4.95" height="10.40" fill="#cbc6c9"/>
<rect x="121.02" y="200.34" width="6.15" height="11.6" fill="#c2bcc0"/>
<rect x="121.62" y="200.94" width="4.95" height="10.40" fill="#cbc6c9"/>
<rect x="127.43" y="200.34" width="6.15" height="11.6" fill="#c2bcc0"/>
<rect x="128.03" y="200.94" width="4.95" height="10.40" fill="#cbc6c9"/>
<rect x="133.84" y="200.34" width="6.15" height="11.6" fill="#c3257a"/>
<rect x="134.44" y="200.94" width="4.95" height="10.40" fill="#c53b80"/>
<rect x="140.25" y="200.34" width="6.15" height="11.6" fill="#c3257a"/>
<rect x="140.85" y="200.94" width="4.95" height="10.40" fill="#c53b80"/>
<rect x="146.67" y="200.34" width="6.15" height="11.6" fill="#c2bcc0"/>
<rect x="147.27" y="200.94" width="4.95" height="10.40" fill="#cbc6c9"/>
<rect x="153.08" y="200.34" width="6.15" height="11.6" fill="#c3257a"/>
<rect x="153.68" y="200.94" width="4.95" height="10.40" fill="#c53b80"/>
<rect x="159.49" y="200.34" width="6.15" height="11.6" fill="#9d2130"/>
<rect x="160.09" y="200.94" width="4.95" height="10.40" fill="#aa3b48"/>
<rect x="191.56" y="200.34" width="6.15" height="11.6" fill="#c2bcc0"/>
<rect x="192.16" y="200.94" width="4.95" height="10.40" fill="#cbc6c9"/>
<rect x="197.97" y="200.34" width="6.15" height="11.6" fill="#c2bcc0"/>
<rect x="198.57" y="200.94" width="4.95" height="10.40" fill="#cbc6c9"/>
<rect x="210.80" y="200.34" width="6.15" height="11.6" fill="#c2bcc0"/>
<rect x="211.40" y="200.94" width="4.95" height="10.40" fill="#cbc6c9"/>
<rect x="230.04" y="200.34" width="6.15" height="11.6" fill="#c3257a"/>
<rect x="230.64" y="200.94" width="4.95" height="10.40" fill="#c53b80"/>
<rect x="242.86" y="200.34" width="6.15" height="11.6" fill="#9d2130"/>
<rect x="243.46" y="200.94" width="4.95" height="10.40" fill="#aa3b48"/>
<rect x="249.28" y="200.34" width="6.15" height="11.6" fill="#c3257a"/>
<rect x="249.88" y="200.94" width="4.95" height="10.40" fill="#c53b80"/>
<rect x="255.69" y="200.34" width="6.15" height="11.6" fill="#c3257a"/>
<rect x="256.29" y="200.94" width="4.95" height="10.40" fill="#c53b80"/>
<rect x="262.10" y="200.34" width="6.15" height="11.6" fill="#c3257a"/>
<rect x="262.70" y="200.94" width="4.95" height="10.40" fill="#c53b80"/>
<rect x="268.52" y="200.34" width="6.15" height="11.6" fill="#c2bcc0"/>
<rect x="269.12" y="200.94" width="4.95" height="10.40" fill="#cbc6c9"/>
<rect x="274.93" y="200.34" width="6.15" height="11.6" fill="#9d2130"/>
<rect x="275.53" y="200.94" width="4.95" height="10.40" fill="#aa3b48"/>
<rect x="281.34" y="200.34" width="6.15" height="11.6" fill="#c2bcc0"/>
<rect x="281.94" y="200.94" width="4.95" height="10.40" fill="#cbc6c9"/>
<rect x="287.75" y="200.34" width="6.15" height="11.6" fill="#c2bcc0"/>
<rect x="288.35" y="200.94" width="4.95" height="10.40" fill="#cbc6c9"/>
<rect x="306.99" y="200.34" width="6.15" height="11.6" fill="#9d2130"/>
<rect x="307.59" y="200.94" width="4.95" height="10.40" fill="#aa3b48"/>
<rect x="326.23" y="200.34" width="6.15" height="11.6" fill="#9d2130"/>
<rect x="326.83" y="200.94" width="4.95" height="10.40" fill="#aa3b48"/>
<rect x="332.64" y="200.34" width="6.15" height="11.6" fill="#c2bcc0"/>
<rect x="333.25" y="200.94" width="4.95" height="10.40" fill="#cbc6c9"/>
<rect x="339.06" y="200.34" width="6.15" height="11.6" fill="#c2bcc0"/>
<rect x="339.66" y="200.94" width="4.95" height="10.40" fill="#cbc6c9"/>
<rect x="351.88" y="200.34" width="6.15" height="11.6" fill="#c2bcc0"/>
<rect x="352.48" y="200.94" width="4.95" height="10.40" fill="#cbc6c9"/>
<rect x="358.30" y="200.34" width="6.15" height="11.6" fill="#c2bcc0"/>
<rect x="358.90" y="200.94" width="4.95" height="10.40" fill="#cbc6c9"/>
<rect x="364.71" y="200.34" width="6.15" height="11.6" fill="#c2bcc0"/>
<rect x="365.31" y="200.94" width="4.95" height="10.40" fill="#cbc6c9"/>
<rect x="371.12" y="200.34" width="6.15" height="11.6" fill="#c3257a"/>
<rect x="371.72" y="200.94" width="4.95" height="10.40" fill="#c53b80"/>
<rect x="377.54" y="200.34" width="6.15" height="11.6" fill="#c2bcc0"/>
<rect x="378.14" y="200.94" width="4.95" height="10.40" fill="#cbc6c9"/>
<rect x="383.95" y="200.34" width="6.15" height="11.6" fill="#c2bcc0"/>
<rect x="384.55" y="200.94" width="4.95" height="10.40" fill="#cbc6c9"/>
<rect x="390.36" y="200.34" width="6.15" height="11.6" fill="#c3257a"/>
<rect x="390.96" y="200.94" width="4.95" height="10.40" fill="#c53b80"/>
<rect x="396.78" y="200.34" width="6.15" height="11.6" fill="#c2bcc0"/>
<rect x="397.38" y="200.94" width="4.95" height="10.40" fill="#cbc6c9"/>
<rect x="403.19" y="200.34" width="6.15" height="11.6" fill="#c2bcc0"/>
<rect x="403.79" y="200.94" width="4.95" height="10.40" fill="#cbc6c9"/>
<rect x="409.60" y="200.34" width="6.15" height="11.6" fill="#9d2130"/>
<rect x="410.20" y="200.94" width="4.95" height="10.40" fill="#aa3b48"/>
<rect x="416.01" y="200.34" width="6.15" height="11.6" fill="#9d2130"/>
<rect x="416.61" y="200.94" width="4.95" height="10.40" fill="#aa3b48"/>
<rect x="422.43" y="200.34" width="6.15" height="11.6" fill="#9d2130"/>
<rect x="423.03" y="200.94" width="4.95" height="10.40" fill="#aa3b48"/>
<rect x="428.84" y="200.34" width="6.15" height="11.6" fill="#9d2130"/>
<rect x="429.44" y="200.94" width="4.95" height="10.40" fill="#aa3b48"/>
<rect x="76.12" y="212.56" width="6.15" height="11.6" fill="#c2bcc0"/>
<rect x="76.72" y="213.16" width="4.95" height="10.40" fill="#cbc6c9"/>
<rect x="82.54" y="212.56" width="6.15" height="11.6" fill="#c3257a"/>
<rect x="83.14" y="213.16" width="4.95" height="10.40" fill="#c53b80"/>
<rect x="88.95" y="212.56" width="6.15" height="11.6" fill="#c3257a"/>
<rect x="89.55" y="213.16" width="4.95" height="10.40" fill="#c53b80"/>
<rect x="95.36" y="212.56" width="6.15" height="11.6" fill="#c2bcc0"/>
<rect x="95.96" y="213.16" width="4.95" height="10.40" fill="#cbc6c9"/>
<rect x="101.78" y="212.56" width="6.15" height="11.6" fill="#c2bcc0"/>
<rect x="102.38" y="213.16" width="4.95" height="10.40" fill="#cbc6c9"/>
<rect x="108.19" y="212.56" width="6.15" height="11.6" fill="#c3257a"/>
<rect x="108.79" y="213.16" width="4.95" height="10.40" fill="#c53b80"/>
<rect x="121.02" y="212.56" width="6.15" height="11.6" fill="#c2bcc0"/>
<rect x="121.62" y="213.16" width="4.95" height="10.40" fill="#cbc6c9"/>
<rect x="127.43" y="212.56" width="6.15" height="11.6" fill="#c2bcc0"/>
<rect x="128.03" y="213.16" width="4.95" height="10.40" fill="#cbc6c9"/>
<rect x="133.84" y="212.56" width="6.15" height="11.6" fill="#c2bcc0"/>
<rect x="134.44" y="213.16" width="4.95" height="10.40" fill="#cbc6c9"/>
<rect x="140.25" y="212.56" width="6.15" height="11.6" fill="#c2bcc0"/>
<rect x="140.85" y="213.16" width="4.95" height="10.40" fill="#cbc6c9"/>
<rect x="146.67" y="212.56" width="6.15" height="11.6" fill="#c3257a"/>
<rect x="147.27" y="213.16" width="4.95" height="10.40" fill="#c53b80"/>
<rect x="153.08" y="212.56" width="6.15" height="11.6" fill="#c2bcc0"/>
<rect x="153.68" y="213.16" width="4.95" height="10.40" fill="#cbc6c9"/>
<rect x="159.49" y="212.56" width="6.15" height="11.6" fill="#c2bcc0"/>
<rect x="160.09" y="213.16" width="4.95" height="10.40" fill="#cbc6c9"/>
<rect x="191.56" y="212.56" width="6.15" height="11.6" fill="#c2bcc0"/>
<rect x="192.16" y="213.16" width="4.95" height="10.40" fill="#cbc6c9"/>
<rect x="197.97" y="212.56" width="6.15" height="11.6" fill="#c2bcc0"/>
<rect x="198.57" y="213.16" width="4.95" height="10.40" fill="#cbc6c9"/>
<rect x="210.80" y="212.56" width="6.15" height="11.6" fill="#c2bcc0"/>
<rect x="211.40" y="213.16" width="4.95" height="10.40" fill="#cbc6c9"/>
<rect x="230.04" y="212.56" width="6.15" height="11.6" fill="#c3257a"/>
<rect x="230.64" y="213.16" width="4.95" height="10.40" fill="#c53b80"/>
<rect x="242.86" y="212.56" width="6.15" height="11.6" fill="#c2bcc0"/>
<rect x="243.46" y="213.16" width="4.95" height="10.40" fill="#cbc6c9"/>
<rect x="249.28" y="212.56" width="6.15" height="11.6" fill="#c2bcc0"/>
<rect x="249.88" y="213.16" width="4.95" height="10.40" fill="#cbc6c9"/>
<rect x="255.69" y="212.56" width="6.15" height="11.6" fill="#c2bcc0"/>
<rect x="256.29" y="213.16" width="4.95" height="10.40" fill="#cbc6c9"/>
<rect x="262.10" y="212.56" width="6.15" height="11.6" fill="#c2bcc0"/>
<rect x="262.70" y="213.16" width="4.95" height="10.40" fill="#cbc6c9"/>
<rect x="268.52" y="212.56" width="6.15" height="11.6" fill="#c3257a"/>
<rect x="269.12" y="213.16" width="4.95" height="10.40" fill="#c53b80"/>
<rect x="274.93" y="212.56" width="6.15" height="11.6" fill="#c2bcc0"/>
<rect x="275.53" y="213.16" width="4.95" height="10.40" fill="#cbc6c9"/>
<rect x="281.34" y="212.56" width="6.15" height="11.6" fill="#c2bcc0"/>
<rect x="281.94" y="213.16" width="4.95" height="10.40" fill="#cbc6c9"/>
<rect x="287.75" y="212.56" width="6.15" height="11.6" fill="#c3257a"/>
<rect x="288.35" y="213.16" width="4.95" height="10.40" fill="#c53b80"/>
<rect x="306.99" y="212.56" width="6.15" height="11.6" fill="#c2bcc0"/>
<rect x="307.59" y="213.16" width="4.95" height="10.40" fill="#cbc6c9"/>
<rect x="326.23" y="212.56" width="6.15" height="11.6" fill="#c3257a"/>
<rect x="326.83" y="213.16" width="4.95" height="10.40" fill="#c53b80"/>
<rect x="332.64" y="212.56" width="6.15" height="11.6" fill="#c2bcc0"/>
<rect x="333.25" y="213.16" width="4.95" height="10.40" fill="#cbc6c9"/>
<rect x="339.06" y="212.56" width="6.15" height="11.6" fill="#c3257a"/>
<rect x="339.66" y="213.16" width="4.95" height="10.40" fill="#c53b80"/>
<rect x="351.88" y="212.56" width="6.15" height="11.6" fill="#c2bcc0"/>
<rect x="352.48" y="213.16" width="4.95" height="10.40" fill="#cbc6c9"/>
<rect x="358.30" y="212.56" width="6.15" height="11.6" fill="#c3257a"/>
<rect x="358.90" y="213.16" width="4.95" height="10.40" fill="#c53b80"/>
<rect x="364.71" y="212.56" width="6.15" height="11.6" fill="#c2bcc0"/>
<rect x="365.31" y="213.16" width="4.95" height="10.40" fill="#cbc6c9"/>
<rect x="371.12" y="212.56" width="6.15" height="11.6" fill="#c2bcc0"/>
<rect x="371.72" y="213.16" width="4.95" height="10.40" fill="#cbc6c9"/>
<rect x="377.54" y="212.56" width="6.15" height="11.6" fill="#c2bcc0"/>
<rect x="378.14" y="213.16" width="4.95" height="10.40" fill="#cbc6c9"/>
<rect x="383.95" y="212.56" width="6.15" height="11.6" fill="#c3257a"/>
<rect x="384.55" y="213.16" width="4.95" height="10.40" fill="#c53b80"/>
<rect x="390.36" y="212.56" width="6.15" height="11.6" fill="#c3257a"/>
<rect x="390.96" y="213.16" width="4.95" height="10.40" fill="#c53b80"/>
<rect x="396.78" y="212.56" width="6.15" height="11.6" fill="#c3257a"/>
<rect x="397.38" y="213.16" width="4.95" height="10.40" fill="#c53b80"/>
<rect x="403.19" y="212.56" width="6.15" height="11.6" fill="#c3257a"/>
<rect x="403.79" y="213.16" width="4.95" height="10.40" fill="#c53b80"/>
<rect x="409.60" y="212.56" width="6.15" height="11.6" fill="#c2bcc0"/>
<rect x="410.20" y="213.16" width="4.95" height="10.40" fill="#cbc6c9"/>
<rect x="416.01" y="212.56" width="6.15" height="11.6" fill="#c2bcc0"/>
<rect x="416.61" y="213.16" width="4.95" height="10.40" fill="#cbc6c9"/>
<rect x="422.43" y="212.56" width="6.15" height="11.6" fill="#c2bcc0"/>
<rect x="423.03" y="213.16" width="4.95" height="10.40" fill="#cbc6c9"/>
<rect x="428.84" y="212.56" width="6.15" height="11.6" fill="#c2bcc0"/>
<rect x="429.44" y="213.16" width="4.95" height="10.40" fill="#cbc6c9"/>
<rect x="76.12" y="224.78" width="6.15" height="11.6" fill="#c2bcc0"/>
<rect x="76.72" y="225.38" width="4.95" height="10.40" fill="#cbc6c9"/>
<rect x="82.54" y="224.78" width="6.15" height="11.6" fill="#c3257a"/>
<rect x="83.14" y="225.38" width="4.95" height="10.40" fill="#c53b80"/>
<rect x="88.95" y="224.78" width="6.15" height="11.6" fill="#c3257a"/>
<rect x="89.55" y="225.38" width="4.95" height="10.40" fill="#c53b80"/>
<rect x="95.36" y="224.78" width="6.15" height="11.6" fill="#c3257a"/>
<rect x="95.96" y="225.38" width="4.95" height="10.40" fill="#c53b80"/>
<rect x="101.78" y="224.78" width="6.15" height="11.6" fill="#c2bcc0"/>
<rect x="102.38" y="225.38" width="4.95" height="10.40" fill="#cbc6c9"/>
<rect x="108.19" y="224.78" width="6.15" height="11.6" fill="#c2bcc0"/>
<rect x="108.79" y="225.38" width="4.95" height="10.40" fill="#cbc6c9"/>
<rect x="121.02" y="224.78" width="6.15" height="11.6" fill="#c2bcc0"/>
<rect x="121.62" y="225.38" width="4.95" height="10.40" fill="#cbc6c9"/>
<rect x="127.43" y="224.78" width="6.15" height="11.6" fill="#9d2130"/>
<rect x="128.03" y="225.38" width="4.95" height="10.40" fill="#aa3b48"/>
<rect x="133.84" y="224.78" width="6.15" height="11.6" fill="#c2bcc0"/>
<rect x="134.44" y="225.38" width="4.95" height="10.40" fill="#cbc6c9"/>
<rect x="140.25" y="224.78" width="6.15" height="11.6" fill="#c3257a"/>
<rect x="140.85" y="225.38" width="4.95" height="10.40" fill="#c53b80"/>
<rect x="146.67" y="224.78" width="6.15" height="11.6" fill="#c3257a"/>
<rect x="147.27" y="225.38" width="4.95" height="10.40" fill="#c53b80"/>
<rect x="153.08" y="224.78" width="6.15" height="11.6" fill="#c2bcc0"/>
<rect x="153.68" y="225.38" width="4.95" height="10.40" fill="#cbc6c9"/>
<rect x="159.49" y="224.78" width="6.15" height="11.6" fill="#c2bcc0"/>
<rect x="160.09" y="225.38" width="4.95" height="10.40" fill="#cbc6c9"/>
<rect x="191.56" y="224.78" width="6.15" height="11.6" fill="#c2bcc0"/>
<rect x="192.16" y="225.38" width="4.95" height="10.40" fill="#cbc6c9"/>
<rect x="197.97" y="224.78" width="6.15" height="11.6" fill="#c2bcc0"/>
<rect x="198.57" y="225.38" width="4.95" height="10.40" fill="#cbc6c9"/>
<rect x="210.80" y="224.78" width="6.15" height="11.6" fill="#c2bcc0"/>
<rect x="211.40" y="225.38" width="4.95" height="10.40" fill="#cbc6c9"/>
<rect x="230.04" y="224.78" width="6.15" height="11.6" fill="#c2bcc0"/>
<rect x="230.64" y="225.38" width="4.95" height="10.40" fill="#cbc6c9"/>
<rect x="242.86" y="224.78" width="6.15" height="11.6" fill="#c2bcc0"/>
<rect x="243.46" y="225.38" width="4.95" height="10.40" fill="#cbc6c9"/>
<rect x="249.28" y="224.78" width="6.15" height="11.6" fill="#c2bcc0"/>
<rect x="249.88" y="225.38" width="4.95" height="10.40" fill="#cbc6c9"/>
<rect x="255.69" y="224.78" width="6.15" height="11.6" fill="#c2bcc0"/>
<rect x="256.29" y="225.38" width="4.95" height="10.40" fill="#cbc6c9"/>
<rect x="262.10" y="224.78" width="6.15" height="11.6" fill="#c3257a"/>
<rect x="262.70" y="225.38" width="4.95" height="10.40" fill="#c53b80"/>
<rect x="268.52" y="224.78" width="6.15" height="11.6" fill="#c3257a"/>
<rect x="269.12" y="225.38" width="4.95" height="10.40" fill="#c53b80"/>
<rect x="274.93" y="224.78" width="6.15" height="11.6" fill="#c2bcc0"/>
<rect x="275.53" y="225.38" width="4.95" height="10.40" fill="#cbc6c9"/>
<rect x="281.34" y="224.78" width="6.15" height="11.6" fill="#c2bcc0"/>
<rect x="281.94" y="225.38" width="4.95" height="10.40" fill="#cbc6c9"/>
<rect x="287.75" y="224.78" width="6.15" height="11.6" fill="#c2bcc0"/>
<rect x="288.35" y="225.38" width="4.95" height="10.40" fill="#cbc6c9"/>
<rect x="306.99" y="224.78" width="6.15" height="11.6" fill="#c2bcc0"/>
<rect x="307.59" y="225.38" width="4.95" height="10.40" fill="#cbc6c9"/>
<rect x="326.23" y="224.78" width="6.15" height="11.6" fill="#c2bcc0"/>
<rect x="326.83" y="225.38" width="4.95" height="10.40" fill="#cbc6c9"/>
<rect x="332.64" y="224.78" width="6.15" height="11.6" fill="#c2bcc0"/>
<rect x="333.25" y="225.38" width="4.95" height="10.40" fill="#cbc6c9"/>
<rect x="339.06" y="224.78" width="6.15" height="11.6" fill="#c2bcc0"/>
<rect x="339.66" y="225.38" width="4.95" height="10.40" fill="#cbc6c9"/>
<rect x="351.88" y="224.78" width="6.15" height="11.6" fill="#c2bcc0"/>
<rect x="352.48" y="225.38" width="4.95" height="10.40" fill="#cbc6c9"/>
<rect x="358.30" y="224.78" width="6.15" height="11.6" fill="#c2bcc0"/>
<rect x="358.90" y="225.38" width="4.95" height="10.40" fill="#cbc6c9"/>
<rect x="364.71" y="224.78" width="6.15" height="11.6" fill="#c2bcc0"/>
<rect x="365.31" y="225.38" width="4.95" height="10.40" fill="#cbc6c9"/>
<rect x="371.12" y="224.78" width="6.15" height="11.6" fill="#c2bcc0"/>
<rect x="371.72" y="225.38" width="4.95" height="10.40" fill="#cbc6c9"/>
<rect x="377.54" y="224.78" width="6.15" height="11.6" fill="#c2bcc0"/>
<rect x="378.14" y="225.38" width="4.95" height="10.40" fill="#cbc6c9"/>
<rect x="383.95" y="224.78" width="6.15" height="11.6" fill="#c2bcc0"/>
<rect x="384.55" y="225.38" width="4.95" height="10.40" fill="#cbc6c9"/>
<rect x="390.36" y="224.78" width="6.15" height="11.6" fill="#c2bcc0"/>
<rect x="390.96" y="225.38" width="4.95" height="10.40" fill="#cbc6c9"/>
<rect x="396.78" y="224.78" width="6.15" height="11.6" fill="#c2bcc0"/>
<rect x="397.38" y="225.38" width="4.95" height="10.40" fill="#cbc6c9"/>
<rect x="403.19" y="224.78" width="6.15" height="11.6" fill="#c2bcc0"/>
<rect x="403.79" y="225.38" width="4.95" height="10.40" fill="#cbc6c9"/>
<rect x="409.60" y="224.78" width="6.15" height="11.6" fill="#c2bcc0"/>
<rect x="410.20" y="225.38" width="4.95" height="10.40" fill="#cbc6c9"/>
<rect x="416.01" y="224.78" width="6.15" height="11.6" fill="#c2bcc0"/>
<rect x="416.61" y="225.38" width="4.95" height="10.40" fill="#cbc6c9"/>
<rect x="422.43" y="224.78" width="6.15" height="11.6" fill="#c2bcc0"/>
<rect x="423.03" y="225.38" width="4.95" height="10.40" fill="#cbc6c9"/>
<rect x="428.84" y="224.78" width="6.15" height="11.6" fill="#c2bcc0"/>
<rect x="429.44" y="225.38" width="4.95" height="10.40" fill="#cbc6c9"/>
<rect x="76.12" y="237.00" width="6.15" height="11.6" fill="#c2bcc0"/>
<rect x="76.72" y="237.60" width="4.95" height="10.40" fill="#cbc6c9"/>
<rect x="82.54" y="237.00" width="6.15" height="11.6" fill="#c2bcc0"/>
<rect x="83.14" y="237.60" width="4.95" height="10.40" fill="#cbc6c9"/>
<rect x="88.95" y="237.00" width="6.15" height="11.6" fill="#c2bcc0"/>
<rect x="89.55" y="237.60" width="4.95" height="10.40" fill="#cbc6c9"/>
<rect x="95.36" y="237.00" width="6.15" height="11.6" fill="#5ea03e"/>
<rect x="95.96" y="237.60" width="4.95" height="10.40" fill="#79ac60"/>
<rect x="101.78" y="237.00" width="6.15" height="11.6" fill="#5ea03e"/>
<rect x="102.38" y="237.60" width="4.95" height="10.40" fill="#79ac60"/>
<rect x="108.19" y="237.00" width="6.15" height="11.6" fill="#c2bcc0"/>
<rect x="108.79" y="237.60" width="4.95" height="10.40" fill="#cbc6c9"/>
<rect x="121.02" y="237.00" width="6.15" height="11.6" fill="#c2bcc0"/>
<rect x="121.62" y="237.60" width="4.95" height="10.40" fill="#cbc6c9"/>
<rect x="127.43" y="237.00" width="6.15" height="11.6" fill="#c2bcc0"/>
<rect x="128.03" y="237.60" width="4.95" height="10.40" fill="#cbc6c9"/>
<rect x="133.84" y="237.00" width="6.15" height="11.6" fill="#5ea03e"/>
<rect x="134.44" y="237.60" width="4.95" height="10.40" fill="#79ac60"/>
<rect x="140.25" y="237.00" width="6.15" height="11.6" fill="#c2bcc0"/>
<rect x="140.85" y="237.60" width="4.95" height="10.40" fill="#cbc6c9"/>
<rect x="146.67" y="237.00" width="6.15" height="11.6" fill="#5ea03e"/>
<rect x="147.27" y="237.60" width="4.95" height="10.40" fill="#79ac60"/>
<rect x="153.08" y="237.00" width="6.15" height="11.6" fill="#c2bcc0"/>
<rect x="153.68" y="237.60" width="4.95" height="10.40" fill="#cbc6c9"/>
<rect x="159.49" y="237.00" width="6.15" height="11.6" fill="#5ea03e"/>
<rect x="160.09" y="237.60" width="4.95" height="10.40" fill="#79ac60"/>
<rect x="191.56" y="237.00" width="6.15" height="11.6" fill="#c2bcc0"/>
<rect x="192.16" y="237.60" width="4.95" height="10.40" fill="#cbc6c9"/>
<rect x="197.97" y="237.00" width="6.15" height="11.6" fill="#c2bcc0"/>
<rect x="198.57" y="237.60" width="4.95" height="10.40" fill="#cbc6c9"/>
<rect x="210.80" y="237.00" width="6.15" height="11.6" fill="#c2bcc0"/>
<rect x="211.40" y="237.60" width="4.95" height="10.40" fill="#cbc6c9"/>
<rect x="230.04" y="237.00" width="6.15" height="11.6" fill="#c2bcc0"/>
<rect x="230.64" y="237.60" width="4.95" height="10.40" fill="#cbc6c9"/>
<rect x="242.86" y="237.00" width="6.15" height="11.6" fill="#c2bcc0"/>
<rect x="243.46" y="237.60" width="4.95" height="10.40" fill="#cbc6c9"/>
<rect x="249.28" y="237.00" width="6.15" height="11.6" fill="#c2bcc0"/>
<rect x="249.88" y="237.60" width="4.95" height="10.40" fill="#cbc6c9"/>
<rect x="255.69" y="237.00" width="6.15" height="11.6" fill="#c2bcc0"/>
<rect x="256.29" y="237.60" width="4.95" height="10.40" fill="#cbc6c9"/>
<rect x="262.10" y="237.00" width="6.15" height="11.6" fill="#c2bcc0"/>
<rect x="262.70" y="237.60" width="4.95" height="10.40" fill="#cbc6c9"/>
<rect x="268.52" y="237.00" width="6.15" height="11.6" fill="#c2bcc0"/>
<rect x="269.12" y="237.60" width="4.95" height="10.40" fill="#cbc6c9"/>
<rect x="274.93" y="237.00" width="6.15" height="11.6" fill="#c2bcc0"/>
<rect x="275.53" y="237.60" width="4.95" height="10.40" fill="#cbc6c9"/>
<rect x="281.34" y="237.00" width="6.15" height="11.6" fill="#c2bcc0"/>
<rect x="281.94" y="237.60" width="4.95" height="10.40" fill="#cbc6c9"/>
<rect x="287.75" y="237.00" width="6.15" height="11.6" fill="#c2bcc0"/>
<rect x="288.35" y="237.60" width="4.95" height="10.40" fill="#cbc6c9"/>
<rect x="306.99" y="237.00" width="6.15" height="11.6" fill="#5ea03e"/>
<rect x="307.59" y="237.60" width="4.95" height="10.40" fill="#79ac60"/>
<rect x="326.23" y="237.00" width="6.15" height="11.6" fill="#c2bcc0"/>
<rect x="326.83" y="237.60" width="4.95" height="10.40" fill="#cbc6c9"/>
<rect x="332.64" y="237.00" width="6.15" height="11.6" fill="#c2bcc0"/>
<rect x="333.25" y="237.60" width="4.95" height="10.40" fill="#cbc6c9"/>
<rect x="339.06" y="237.00" width="6.15" height="11.6" fill="#c2bcc0"/>
<rect x="339.66" y="237.60" width="4.95" height="10.40" fill="#cbc6c9"/>
<rect x="351.88" y="237.00" width="6.15" height="11.6" fill="#5ea03e"/>
<rect x="352.48" y="237.60" width="4.95" height="10.40" fill="#79ac60"/>
<rect x="358.30" y="237.00" width="6.15" height="11.6" fill="#c2bcc0"/>
<rect x="358.90" y="237.60" width="4.95" height="10.40" fill="#cbc6c9"/>
<rect x="364.71" y="237.00" width="6.15" height="11.6" fill="#c2bcc0"/>
<rect x="365.31" y="237.60" width="4.95" height="10.40" fill="#cbc6c9"/>
<rect x="371.12" y="237.00" width="6.15" height="11.6" fill="#c2bcc0"/>
<rect x="371.72" y="237.60" width="4.95" height="10.40" fill="#cbc6c9"/>
<rect x="377.54" y="237.00" width="6.15" height="11.6" fill="#c2bcc0"/>
<rect x="378.14" y="237.60" width="4.95" height="10.40" fill="#cbc6c9"/>
<rect x="383.95" y="237.00" width="6.15" height="11.6" fill="#5ea03e"/>
<rect x="384.55" y="237.60" width="4.95" height="10.40" fill="#79ac60"/>
<rect x="390.36" y="237.00" width="6.15" height="11.6" fill="#c2bcc0"/>
<rect x="390.96" y="237.60" width="4.95" height="10.40" fill="#cbc6c9"/>
<rect x="396.78" y="237.00" width="6.15" height="11.6" fill="#5ea03e"/>
<rect x="397.38" y="237.60" width="4.95" height="10.40" fill="#79ac60"/>
<rect x="403.19" y="237.00" width="6.15" height="11.6" fill="#c2bcc0"/>
<rect x="403.79" y="237.60" width="4.95" height="10.40" fill="#cbc6c9"/>
<rect x="409.60" y="237.00" width="6.15" height="11.6" fill="#c2bcc0"/>
<rect x="410.20" y="237.60" width="4.95" height="10.40" fill="#cbc6c9"/>
<rect x="416.01" y="237.00" width="6.15" height="11.6" fill="#5ea03e"/>
<rect x="416.61" y="237.60" width="4.95" height="10.40" fill="#79ac60"/>
<rect x="422.43" y="237.00" width="6.15" height="11.6" fill="#c2bcc0"/>
<rect x="423.03" y="237.60" width="4.95" height="10.40" fill="#cbc6c9"/>
<rect x="428.84" y="237.00" width="6.15" height="11.6" fill="#c2bcc0"/>
<rect x="429.44" y="237.60" width="4.95" height="10.40" fill="#cbc6c9"/>
<text x="63.6" y="183.5" font-size="6.5" font-family="Liberation Sans, sans-serif" fill="#1a1a1a" text-anchor="end" stroke="#1a1a1a" stroke-width="0.12" textLength="35.4" lengthAdjust="spacingAndGlyphs" >CCND2 FISH</text>
<text x="63.6" y="195.8" font-size="6.5" font-family="Liberation Sans, sans-serif" fill="#1a1a1a" text-anchor="end" stroke="#1a1a1a" stroke-width="0.12" textLength="35.4" lengthAdjust="spacingAndGlyphs" >CCND3 FISH</text>
<text x="63.6" y="208.3" font-size="6.5" font-family="Liberation Sans, sans-serif" fill="#1a1a1a" text-anchor="end" stroke="#1a1a1a" stroke-width="0.12" textLength="42.6" lengthAdjust="spacingAndGlyphs" >9p21/CDKN2A</text>
<text x="63.6" y="220.60000000000002" font-size="6.5" font-family="Liberation Sans, sans-serif" fill="#1a1a1a" text-anchor="end" stroke="#1a1a1a" stroke-width="0.12" textLength="33.4" lengthAdjust="spacingAndGlyphs" >11q22/ATM</text>
<text x="63.6" y="232.20000000000002" font-size="6.5" font-family="Liberation Sans, sans-serif" fill="#1a1a1a" text-anchor="end" stroke="#1a1a1a" stroke-width="0.12" textLength="34.9" lengthAdjust="spacingAndGlyphs" >17p13/TP53</text>
<text x="63.6" y="244.60000000000002" font-size="6.5" font-family="Liberation Sans, sans-serif" fill="#1a1a1a" text-anchor="end" stroke="#1a1a1a" stroke-width="0.12" textLength="45.4" lengthAdjust="spacingAndGlyphs" >Chromothripsis</text>
<rect x="443.7" y="172.70" width="6.1" height="7.6" fill="#34507b"/>
<rect x="444.3" y="173.30" width="4.9" height="6.4" fill="#4c6488"/>
<text x="453" y="178.85" font-size="5.6" font-family="Liberation Sans, sans-serif" fill="#222" text-anchor="start" stroke="#222" stroke-width="0.02" textLength="53.5" lengthAdjust="spacingAndGlyphs" >CCND2 Break–apart +</text>
<rect x="443.7" y="182.90" width="6.1" height="7.6" fill="#34507b"/>
<rect x="444.3" y="183.50" width="4.9" height="6.4" fill="#4c6488"/>
<path d="M447.95 185.65A1.35 1.7 0 1 0 447.95 188.25" fill="none" stroke="#fff" stroke-width="0.95"/>
<text x="453" y="189.05" font-size="5.6" font-family="Liberation Sans, sans-serif" fill="#222" text-anchor="start" stroke="#222" stroke-width="0.02" textLength="35.8" lengthAdjust="spacingAndGlyphs" >CCND2 Cryptic</text>
<rect x="443.7" y="193.10" width="6.1" height="7.6" fill="#4a92cf"/>
<rect x="444.3" y="193.70" width="4.9" height="6.4" fill="#60a1d7"/>
<path d="M447.95 195.85A1.35 1.7 0 1 0 447.95 198.45" fill="none" stroke="#fff" stroke-width="0.95"/>
<text x="453" y="199.25" font-size="5.6" font-family="Liberation Sans, sans-serif" fill="#222" text-anchor="start" stroke="#222" stroke-width="0.02" textLength="35.8" lengthAdjust="spacingAndGlyphs" >CCND3 Cryptic</text>
<rect x="443.7" y="203.30" width="6.1" height="7.6" fill="#c2bcc0"/>
<rect x="444.3" y="203.90" width="4.9" height="6.4" fill="#cbc6c9"/>
<text x="453" y="209.45" font-size="5.6" font-family="Liberation Sans, sans-serif" fill="#222" text-anchor="start" stroke="#222" stroke-width="0.02" textLength="22.9" lengthAdjust="spacingAndGlyphs" >Wild type</text>
<rect x="444" y="213.80" width="5.5" height="7" fill="#fff" stroke="#222" stroke-width="0.6"/>
<text x="453" y="219.65" font-size="5.6" font-family="Liberation Sans, sans-serif" fill="#222" text-anchor="start" stroke="#222" stroke-width="0.02" textLength="43.8" lengthAdjust="spacingAndGlyphs" >Not available (NA)</text>
<rect x="443.7" y="223.70" width="6.1" height="7.6" fill="#c3257a"/>
<rect x="444.3" y="224.30" width="4.9" height="6.4" fill="#c53b80"/>
<text x="453" y="229.85" font-size="5.6" font-family="Liberation Sans, sans-serif" fill="#222" text-anchor="start" stroke="#222" stroke-width="0.02" textLength="20.8" lengthAdjust="spacingAndGlyphs" >Deletion</text>
<rect x="443.7" y="233.90" width="6.1" height="7.6" fill="#9d2130"/>
<rect x="444.3" y="234.50" width="4.9" height="6.4" fill="#aa3b48"/>
<text x="453" y="240.05" font-size="5.6" font-family="Liberation Sans, sans-serif" fill="#222" text-anchor="start" stroke="#222" stroke-width="0.02" textLength="54.4" lengthAdjust="spacingAndGlyphs" >Homozygous Deletion</text>
<rect x="443.7" y="244.10" width="6.1" height="7.6" fill="#5ea03e"/>
<rect x="444.3" y="244.70" width="4.9" height="6.4" fill="#79ac60"/>
<text x="453" y="250.25" font-size="5.6" font-family="Liberation Sans, sans-serif" fill="#222" text-anchor="start" stroke="#222" stroke-width="0.02" textLength="37.8" lengthAdjust="spacingAndGlyphs" >Chromothripsis</text>
<line x1="70.2" y1="252.5" x2="70.2" y2="320.3" stroke="#000" stroke-width="1.1"/>
<line x1="66.6" y1="254.60" x2="70.2" y2="254.60" stroke="#000" stroke-width="1.05"/>
<text x="63.5" y="257.0" font-size="7.0" font-family="Liberation Sans, sans-serif" fill="#1a1a1a" text-anchor="end" stroke="#1a1a1a" stroke-width="0.08" textLength="3.9" lengthAdjust="spacingAndGlyphs" >0</text>
<line x1="66.6" y1="273.45" x2="70.2" y2="273.45" stroke="#000" stroke-width="1.05"/>
<text x="63.5" y="275.85" font-size="7.0" font-family="Liberation Sans, sans-serif" fill="#1a1a1a" text-anchor="end" stroke="#1a1a1a" stroke-width="0.08" textLength="7.0" lengthAdjust="spacingAndGlyphs" >15</text>
<line x1="66.6" y1="292.30" x2="70.2" y2="292.30" stroke="#000" stroke-width="1.05"/>
<text x="63.5" y="294.7" font-size="7.0" font-family="Liberation Sans, sans-serif" fill="#1a1a1a" text-anchor="end" stroke="#1a1a1a" stroke-width="0.08" textLength="7.5" lengthAdjust="spacingAndGlyphs" >30</text>
<line x1="66.6" y1="311.15" x2="70.2" y2="311.15" stroke="#000" stroke-width="1.05"/>
<text x="63.5" y="313.55" font-size="7.0" font-family="Liberation Sans, sans-serif" fill="#1a1a1a" text-anchor="end" stroke="#1a1a1a" stroke-width="0.08" textLength="7.5" lengthAdjust="spacingAndGlyphs" >45</text>
<text x="50.3" y="316.6" font-size="8.7" font-family="Liberation Sans, sans-serif" fill="#1a1a1a" text-anchor="start" stroke="#1a1a1a" stroke-width="0.12" textLength="61" lengthAdjust="spacingAndGlyphs" transform="rotate(-90 50.3 316.6)" >Number of CNA</text>
<rect x="76.75" y="254.75" width="4.9" height="29.86" fill="#4b505c"/>
<rect x="77.30" y="255.3" width="3.8" height="28.76" fill="#696e7a"/>
<rect x="83.16" y="254.75" width="4.9" height="14.78" fill="#4b505c"/>
<rect x="83.71" y="255.3" width="3.8" height="13.68" fill="#696e7a"/>
<rect x="89.58" y="254.75" width="4.9" height="5.98" fill="#4b505c"/>
<rect x="90.13" y="255.3" width="3.8" height="4.88" fill="#696e7a"/>
<rect x="95.99" y="254.75" width="4.9" height="36.14" fill="#4b505c"/>
<rect x="96.54" y="255.3" width="3.8" height="35.04" fill="#696e7a"/>
<rect x="102.40" y="254.75" width="4.9" height="16.04" fill="#4b505c"/>
<rect x="102.95" y="255.3" width="3.8" height="14.94" fill="#696e7a"/>
<rect x="108.81" y="254.75" width="4.9" height="3.47" fill="#4b505c"/>
<rect x="109.36" y="255.3" width="3.8" height="2.37" fill="#696e7a"/>
<text x="119.43" y="264.0" font-size="5.9" font-family="Liberation Sans, sans-serif" fill="#111" text-anchor="start" stroke="#111" stroke-width="0.12" textLength="8.6" lengthAdjust="spacingAndGlyphs" transform="rotate(-90 119.43 264.0)" >NA</text>
<rect x="121.64" y="254.75" width="4.9" height="12.27" fill="#4b505c"/>
<rect x="122.19" y="255.3" width="3.8" height="11.17" fill="#696e7a"/>
<rect x="128.05" y="254.75" width="4.9" height="17.29" fill="#4b505c"/>
<rect x="128.60" y="255.3" width="3.8" height="16.19" fill="#696e7a"/>
<rect x="134.47" y="254.75" width="4.9" height="36.77" fill="#4b505c"/>
<rect x="135.02" y="255.3" width="3.8" height="35.67" fill="#696e7a"/>
<rect x="140.88" y="254.75" width="4.9" height="7.24" fill="#4b505c"/>
<rect x="141.43" y="255.3" width="3.8" height="6.14" fill="#696e7a"/>
<rect x="147.29" y="254.75" width="4.9" height="65.05" fill="#4b505c"/>
<rect x="147.84" y="255.3" width="3.8" height="63.95" fill="#696e7a"/>
<rect x="153.71" y="254.75" width="4.9" height="11.01" fill="#4b505c"/>
<rect x="154.26" y="255.3" width="3.8" height="9.91" fill="#696e7a"/>
<rect x="160.12" y="254.75" width="4.9" height="29.86" fill="#4b505c"/>
<rect x="160.67" y="255.3" width="3.8" height="28.76" fill="#696e7a"/>
<text x="170.73" y="264.0" font-size="5.9" font-family="Liberation Sans, sans-serif" fill="#111" text-anchor="start" stroke="#111" stroke-width="0.12" textLength="8.6" lengthAdjust="spacingAndGlyphs" transform="rotate(-90 170.73 264.0)" >NA</text>
<text x="177.15" y="264.0" font-size="5.9" font-family="Liberation Sans, sans-serif" fill="#111" text-anchor="start" stroke="#111" stroke-width="0.12" textLength="8.6" lengthAdjust="spacingAndGlyphs" transform="rotate(-90 177.15 264.0)" >NA</text>
<text x="183.56" y="264.0" font-size="5.9" font-family="Liberation Sans, sans-serif" fill="#111" text-anchor="start" stroke="#111" stroke-width="0.12" textLength="8.6" lengthAdjust="spacingAndGlyphs" transform="rotate(-90 183.56 264.0)" >NA</text>
<text x="189.97" y="264.0" font-size="5.9" font-family="Liberation Sans, sans-serif" fill="#111" text-anchor="start" stroke="#111" stroke-width="0.12" textLength="8.6" lengthAdjust="spacingAndGlyphs" transform="rotate(-90 189.97 264.0)" >NA</text>
<rect x="192.18" y="254.75" width="4.9" height="16.54" fill="#4b505c"/>
<rect x="192.73" y="255.3" width="3.8" height="15.44" fill="#696e7a"/>
<rect x="198.60" y="254.75" width="4.9" height="2.34" fill="#4b505c"/>
<rect x="199.15" y="255.3" width="3.8" height="1.24" fill="#696e7a"/>
<text x="209.21" y="264.0" font-size="5.9" font-family="Liberation Sans, sans-serif" fill="#111" text-anchor="start" stroke="#111" stroke-width="0.12" textLength="8.6" lengthAdjust="spacingAndGlyphs" transform="rotate(-90 209.21 264.0)" >NA</text>
<rect x="211.42" y="254.75" width="4.9" height="12.27" fill="#4b505c"/>
<rect x="211.97" y="255.3" width="3.8" height="11.17" fill="#696e7a"/>
<text x="222.04" y="264.0" font-size="5.9" font-family="Liberation Sans, sans-serif" fill="#111" text-anchor="start" stroke="#111" stroke-width="0.12" textLength="8.6" lengthAdjust="spacingAndGlyphs" transform="rotate(-90 222.04 264.0)" >NA</text>
<text x="228.45" y="264.0" font-size="5.9" font-family="Liberation Sans, sans-serif" fill="#111" text-anchor="start" stroke="#111" stroke-width="0.12" textLength="8.6" lengthAdjust="spacingAndGlyphs" transform="rotate(-90 228.45 264.0)" >NA</text>
<rect x="230.66" y="254.75" width="4.9" height="7.24" fill="#4b505c"/>
<rect x="231.21" y="255.3" width="3.8" height="6.14" fill="#696e7a"/>
<text x="241.28" y="264.0" font-size="5.9" font-family="Liberation Sans, sans-serif" fill="#111" text-anchor="start" stroke="#111" stroke-width="0.12" textLength="8.6" lengthAdjust="spacingAndGlyphs" transform="rotate(-90 241.28 264.0)" >NA</text>
<rect x="243.49" y="254.75" width="4.9" height="9.75" fill="#4b505c"/>
<rect x="244.04" y="255.3" width="3.8" height="8.65" fill="#696e7a"/>
<rect x="249.90" y="254.75" width="4.9" height="21.06" fill="#4b505c"/>
<rect x="250.45" y="255.3" width="3.8" height="19.96" fill="#696e7a"/>
<rect x="256.31" y="254.75" width="4.9" height="13.52" fill="#4b505c"/>
<rect x="256.86" y="255.3" width="3.8" height="12.42" fill="#696e7a"/>
<rect x="262.73" y="254.75" width="4.9" height="9.75" fill="#4b505c"/>
<rect x="263.28" y="255.3" width="3.8" height="8.65" fill="#696e7a"/>
<rect x="269.14" y="254.75" width="4.9" height="7.24" fill="#4b505c"/>
<rect x="269.69" y="255.3" width="3.8" height="6.14" fill="#696e7a"/>
<rect x="275.55" y="254.75" width="4.9" height="11.01" fill="#4b505c"/>
<rect x="276.10" y="255.3" width="3.8" height="9.91" fill="#696e7a"/>
<rect x="281.97" y="254.75" width="4.9" height="7.24" fill="#4b505c"/>
<rect x="282.52" y="255.3" width="3.8" height="6.14" fill="#696e7a"/>
<rect x="288.38" y="254.75" width="4.9" height="5.98" fill="#4b505c"/>
<rect x="288.93" y="255.3" width="3.8" height="4.88" fill="#696e7a"/>
<text x="298.99" y="264.0" font-size="5.9" font-family="Liberation Sans, sans-serif" fill="#111" text-anchor="start" stroke="#111" stroke-width="0.12" textLength="8.6" lengthAdjust="spacingAndGlyphs" transform="rotate(-90 298.99 264.0)" >NA</text>
<text x="305.41" y="264.0" font-size="5.9" font-family="Liberation Sans, sans-serif" fill="#111" text-anchor="start" stroke="#111" stroke-width="0.12" textLength="8.6" lengthAdjust="spacingAndGlyphs" transform="rotate(-90 305.41 264.0)" >NA</text>
<rect x="307.62" y="254.75" width="4.9" height="19.81" fill="#4b505c"/>
<rect x="308.17" y="255.3" width="3.8" height="18.71" fill="#696e7a"/>
<text x="318.23" y="264.0" font-size="5.9" font-family="Liberation Sans, sans-serif" fill="#111" text-anchor="start" stroke="#111" stroke-width="0.12" textLength="8.6" lengthAdjust="spacingAndGlyphs" transform="rotate(-90 318.23 264.0)" >NA</text>
<text x="324.64" y="264.0" font-size="5.9" font-family="Liberation Sans, sans-serif" fill="#111" text-anchor="start" stroke="#111" stroke-width="0.12" textLength="8.6" lengthAdjust="spacingAndGlyphs" transform="rotate(-90 324.64 264.0)" >NA</text>
<rect x="326.86" y="254.75" width="4.9" height="4.73" fill="#4b505c"/>
<rect x="327.41" y="255.3" width="3.8" height="3.63" fill="#696e7a"/>
<rect x="333.27" y="254.75" width="4.9" height="7.87" fill="#4b505c"/>
<rect x="333.82" y="255.3" width="3.8" height="6.77" fill="#696e7a"/>
<rect x="339.68" y="254.75" width="4.9" height="6.74" fill="#4b505c"/>
<rect x="340.23" y="255.3" width="3.8" height="5.64" fill="#696e7a"/>
<text x="350.3" y="264.0" font-size="5.9" font-family="Liberation Sans, sans-serif" fill="#111" text-anchor="start" stroke="#111" stroke-width="0.12" textLength="8.6" lengthAdjust="spacingAndGlyphs" transform="rotate(-90 350.3 264.0)" >NA</text>
<rect x="352.51" y="254.75" width="4.9" height="8.50" fill="#4b505c"/>
<rect x="353.06" y="255.3" width="3.8" height="7.40" fill="#696e7a"/>
<rect x="358.92" y="254.75" width="4.9" height="2.34" fill="#4b505c"/>
<rect x="359.47" y="255.3" width="3.8" height="1.24" fill="#696e7a"/>
<rect x="365.34" y="254.75" width="4.9" height="17.29" fill="#4b505c"/>
<rect x="365.89" y="255.3" width="3.8" height="16.19" fill="#696e7a"/>
<rect x="371.75" y="254.75" width="4.9" height="39.29" fill="#4b505c"/>
<rect x="372.30" y="255.3" width="3.8" height="38.19" fill="#696e7a"/>
<rect x="378.16" y="254.75" width="4.9" height="3.47" fill="#4b505c"/>
<rect x="378.71" y="255.3" width="3.8" height="2.37" fill="#696e7a"/>
<rect x="384.57" y="254.75" width="4.9" height="16.04" fill="#4b505c"/>
<rect x="385.12" y="255.3" width="3.8" height="14.94" fill="#696e7a"/>
<rect x="390.99" y="254.75" width="4.9" height="18.55" fill="#4b505c"/>
<rect x="391.54" y="255.3" width="3.8" height="17.45" fill="#696e7a"/>
<rect x="397.40" y="254.75" width="4.9" height="11.01" fill="#4b505c"/>
<rect x="397.95" y="255.3" width="3.8" height="9.91" fill="#696e7a"/>
<rect x="403.81" y="254.75" width="4.9" height="8.50" fill="#4b505c"/>
<rect x="404.36" y="255.3" width="3.8" height="7.40" fill="#696e7a"/>
<rect x="410.23" y="254.75" width="4.9" height="19.81" fill="#4b505c"/>
<rect x="410.78" y="255.3" width="3.8" height="18.71" fill="#696e7a"/>
<rect x="416.64" y="254.75" width="4.9" height="29.86" fill="#4b505c"/>
<rect x="417.19" y="255.3" width="3.8" height="28.76" fill="#696e7a"/>
<rect x="423.05" y="254.75" width="4.9" height="17.80" fill="#4b505c"/>
<rect x="423.60" y="255.3" width="3.8" height="16.70" fill="#696e7a"/>
<rect x="429.47" y="254.75" width="4.9" height="22.32" fill="#4b505c"/>
<rect x="430.02" y="255.3" width="3.8" height="21.22" fill="#696e7a"/>
</svg>
</body></html>
